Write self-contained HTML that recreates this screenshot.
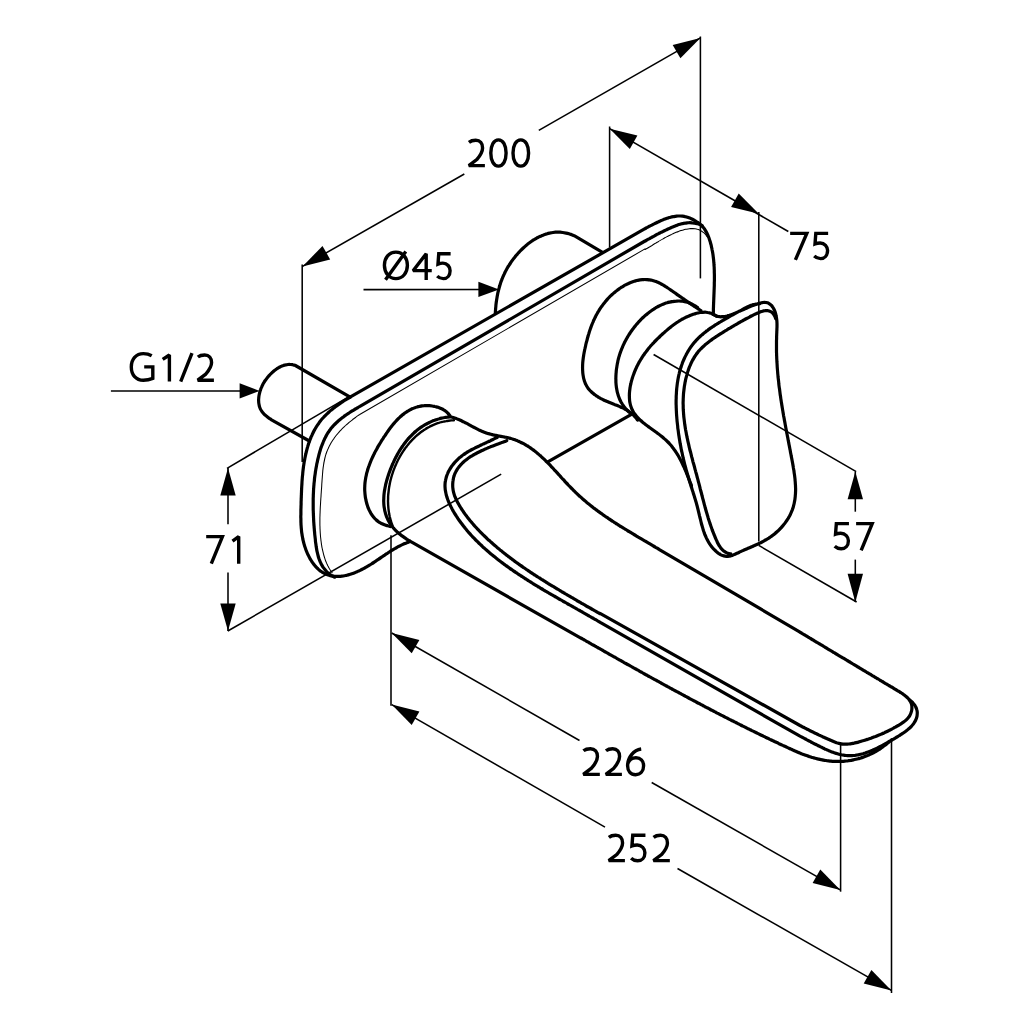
<!DOCTYPE html>
<html><head><meta charset="utf-8"><style>
html,body{margin:0;padding:0;background:#fff;}
svg{display:block;}
text{font-family:"Liberation Sans", sans-serif;fill:#000;}
</style></head><body>
<svg width="1030" height="1030" viewBox="0 0 1030 1030">
<rect width="1030" height="1030" fill="#fff"/>
<path d="M495.3,313.1 C495.4,312.7 495.4,311.3 495.5,310.4 C495.6,309.6 495.6,308.7 495.7,307.8 C495.8,306.9 495.9,306.1 495.9,305.2 C496.0,304.4 496.1,303.5 496.2,302.7 C496.3,301.8 496.5,301.0 496.6,300.1 C496.7,299.3 496.8,298.5 497.0,297.6 C497.1,296.8 497.3,296.0 497.4,295.2 C497.6,294.4 497.7,293.6 497.9,292.7 C498.1,291.9 498.3,291.1 498.5,290.3 C498.7,289.5 498.9,288.7 499.1,288.0 C499.3,287.2 499.5,286.4 499.8,285.6 C500.0,284.8 500.3,284.0 500.5,283.3 C500.8,282.5 501.0,281.7 501.3,280.9 C501.6,280.2 501.9,279.4 502.2,278.7 C502.5,277.9 502.8,277.1 503.1,276.4 C503.5,275.6 503.8,274.9 504.2,274.1 C504.5,273.4 504.9,272.7 505.2,271.9 C505.6,271.2 506.0,270.4 506.4,269.7 C506.8,269.0 507.2,268.2 507.6,267.5 C508.1,266.8 508.5,266.1 509.0,265.3 C509.4,264.6 509.9,263.9 510.4,263.2 C510.8,262.5 511.3,261.8 511.8,261.0 C512.3,260.3 512.9,259.6 513.4,258.9 C513.9,258.2 514.5,257.5 515.0,256.9 C515.6,256.2 516.1,255.5 516.7,254.8 C517.3,254.2 517.9,253.5 518.5,252.8 C519.1,252.2 519.7,251.5 520.3,250.9 C520.9,250.3 521.5,249.7 522.2,249.0 C522.8,248.4 523.4,247.8 524.1,247.2 C524.8,246.6 525.4,246.1 526.1,245.5 C526.8,244.9 527.4,244.4 528.1,243.8 C528.8,243.3 529.5,242.8 530.2,242.3 C530.9,241.8 531.6,241.3 532.3,240.8 C533.1,240.3 533.8,239.8 534.5,239.4 C535.3,238.9 536.0,238.5 536.7,238.1 C537.5,237.7 538.2,237.3 539.0,236.9 C539.7,236.6 540.5,236.2 541.3,235.9 C542.0,235.5 542.8,235.2 543.6,234.9 C544.3,234.6 545.1,234.4 545.9,234.1 C546.7,233.9 547.5,233.6 548.2,233.4 C549.0,233.2 549.8,233.0 550.6,232.9 C551.4,232.7 552.2,232.6 553.0,232.5 C553.8,232.4 554.6,232.3 555.4,232.2 C556.2,232.2 557.0,232.1 557.8,232.1 C558.6,232.1 559.4,232.2 560.2,232.2 C561.1,232.3 561.9,232.4 562.7,232.5 C563.5,232.6 564.3,232.7 565.1,232.9 C565.9,233.0 566.7,233.2 567.5,233.4 C568.3,233.6 569.1,233.8 569.9,234.1 C570.7,234.3 571.5,234.6 572.3,234.9 C573.1,235.2 574.2,235.7 574.6,235.9 L602.5,252.3" fill="none" stroke="#000" stroke-width="3.2" stroke-linejoin="round" stroke-linecap="round"/>
<path d="M350.2,397.1 L295.4,365.5  L295.0,365.3 C294.6,365.2 293.5,364.9 292.7,364.7 C291.9,364.6 291.1,364.5 290.3,364.5 C289.6,364.4 288.8,364.4 288.0,364.5 C287.2,364.6 286.5,364.7 285.7,364.9 C284.9,365.0 284.1,365.2 283.4,365.5 C282.6,365.8 281.8,366.1 281.1,366.4 C280.3,366.8 279.6,367.2 278.8,367.6 C278.1,368.0 277.4,368.5 276.6,369.0 C275.9,369.5 275.2,370.0 274.5,370.5 C273.8,371.1 273.1,371.7 272.5,372.3 C271.8,372.8 271.2,373.5 270.5,374.1 C269.9,374.7 269.3,375.4 268.7,376.0 C268.1,376.7 267.5,377.4 267.0,378.1 C266.5,378.8 265.9,379.5 265.4,380.2 C264.9,380.9 264.4,381.7 264.0,382.4 C263.5,383.2 263.1,383.9 262.7,384.7 C262.3,385.5 261.9,386.3 261.6,387.1 C261.2,387.9 260.9,388.7 260.6,389.6 C260.3,390.4 260.0,391.2 259.8,392.1 C259.6,392.9 259.4,393.8 259.2,394.6 C259.0,395.5 258.9,396.3 258.8,397.2 C258.7,398.1 258.7,398.9 258.6,399.8 C258.6,400.7 258.7,401.5 258.7,402.4 C258.8,403.2 258.9,404.0 259.1,404.8 C259.2,405.6 259.4,406.4 259.7,407.2 C260.0,408.0 260.3,408.7 260.6,409.4 C261.0,410.2 261.4,410.9 261.9,411.5 C262.4,412.2 262.9,412.8 263.5,413.4 C264.0,414.0 264.6,414.6 265.3,415.2 C265.9,415.8 266.6,416.3 267.2,416.8 C267.9,417.4 268.6,417.9 269.3,418.4 C270.1,418.9 271.2,419.6 271.5,419.8 L309.4,441" fill="none" stroke="#000" stroke-width="3.2" stroke-linejoin="round" stroke-linecap="round"/>
<path d="M408.7,542.0 C408.3,542.2 407.1,542.6 406.4,542.9 C405.6,543.2 404.8,543.5 404.1,543.8 C403.3,544.2 402.6,544.5 401.8,544.9 C401.1,545.2 400.4,545.6 399.6,546.0 C398.9,546.3 398.2,546.7 397.4,547.1 C396.7,547.5 396.0,547.9 395.3,548.4 C394.5,548.8 393.8,549.2 393.1,549.6 C392.4,550.1 391.7,550.5 391.0,550.9 C390.3,551.4 389.6,551.8 388.9,552.3 C388.2,552.8 387.5,553.2 386.8,553.7 C386.1,554.1 385.4,554.6 384.7,555.1 C384.0,555.5 383.3,556.0 382.6,556.5 C381.9,557.0 381.2,557.4 380.5,557.9 C379.8,558.4 379.1,558.9 378.4,559.3 C377.7,559.8 377.0,560.3 376.3,560.7 C375.6,561.2 374.9,561.7 374.2,562.1 C373.5,562.6 372.8,563.1 372.1,563.5 C371.4,564.0 370.7,564.4 369.9,564.9 C369.2,565.3 368.5,565.7 367.8,566.2 C367.1,566.6 366.3,567.0 365.6,567.4 C364.9,567.9 364.1,568.3 363.4,568.7 C362.7,569.1 361.9,569.4 361.2,569.8 C360.4,570.2 359.7,570.6 358.9,570.9 C358.1,571.3 357.4,571.6 356.6,571.9 C355.8,572.3 355.0,572.6 354.2,572.9 C353.4,573.2 352.6,573.5 351.8,573.7 C351.0,574.0 350.2,574.3 349.4,574.5 C348.6,574.8 347.8,575.0 346.9,575.2 C346.1,575.4 345.3,575.5 344.4,575.7 C343.6,575.9 342.8,576.0 341.9,576.1 C341.1,576.2 340.3,576.3 339.4,576.3 C338.6,576.4 337.8,576.4 336.9,576.4 C336.1,576.4 335.3,576.4 334.5,576.3 C333.7,576.2 332.9,576.1 332.1,576.0 C331.3,575.8 330.5,575.7 329.7,575.4 C328.9,575.2 328.1,575.0 327.4,574.7 C326.6,574.5 325.9,574.1 325.2,573.8 C324.4,573.5 323.7,573.1 323.0,572.7 C322.4,572.3 321.7,571.8 321.0,571.4 C320.4,570.9 319.7,570.4 319.1,569.9 C318.5,569.4 317.9,568.8 317.3,568.3 C316.7,567.7 316.2,567.1 315.6,566.5 C315.1,565.9 314.5,565.2 314.0,564.6 C313.5,563.9 313.0,563.2 312.5,562.5 C312.0,561.9 311.6,561.1 311.1,560.4 C310.6,559.7 310.2,559.0 309.8,558.2 C309.4,557.5 309.0,556.7 308.6,555.9 C308.2,555.1 307.8,554.4 307.5,553.6 C307.1,552.8 306.8,552.0 306.5,551.2 C306.1,550.4 305.8,549.6 305.6,548.8 C305.3,548.0 305.0,547.1 304.7,546.3 C304.5,545.5 304.2,544.7 304.0,543.9 C303.8,543.1 303.6,542.3 303.4,541.5 C303.2,540.6 303.0,539.8 302.8,539.0 C302.7,538.2 302.5,537.4 302.4,536.6 C302.2,535.8 302.1,535.0 302.0,534.2 C301.8,533.4 301.7,532.6 301.6,531.8 C301.5,531.0 301.5,530.1 301.4,529.3 C301.3,528.5 301.2,527.7 301.2,526.9 C301.1,526.1 301.1,525.3 301.0,524.5 C301.0,523.7 301.0,522.9 300.9,522.0 C300.9,521.2 300.9,520.4 300.9,519.6 C300.9,518.8 300.9,518.0 300.8,517.2 C300.8,516.3 300.8,515.5 300.9,514.7 C300.9,513.9 300.9,513.1 300.9,512.2 C300.9,511.4 300.9,510.6 300.9,509.8 C300.9,508.9 301.0,508.1 301.0,507.3 C301.0,506.4 301.0,505.6 301.1,504.8 C301.1,503.9 301.1,503.1 301.1,502.2 C301.1,501.4 301.2,500.6 301.2,499.7 C301.2,498.9 301.2,498.0 301.3,497.2 C301.3,496.3 301.3,495.5 301.4,494.6 C301.4,493.8 301.4,492.9 301.5,492.1 C301.5,491.2 301.5,490.3 301.6,489.5 C301.6,488.6 301.7,487.8 301.7,486.9 C301.8,486.1 301.8,485.2 301.9,484.3 C301.9,483.5 302.0,482.6 302.0,481.8 C302.1,480.9 302.1,480.1 302.2,479.2 C302.3,478.3 302.3,477.5 302.4,476.6 C302.5,475.8 302.6,474.9 302.7,474.1 C302.7,473.2 302.8,472.4 302.9,471.5 C303.0,470.7 303.1,469.8 303.2,469.0 C303.3,468.1 303.4,467.3 303.5,466.4 C303.7,465.6 303.8,464.7 303.9,463.9 C304.0,463.1 304.2,462.2 304.3,461.4 C304.5,460.6 304.6,459.7 304.8,458.9 C304.9,458.1 305.1,457.2 305.3,456.4 C305.4,455.6 305.6,454.8 305.8,454.0 C306.0,453.1 306.2,452.3 306.4,451.5 C306.6,450.7 306.8,449.9 307.0,449.1 C307.2,448.3 307.4,447.5 307.7,446.7 C307.9,445.9 308.1,445.2 308.4,444.4 C308.6,443.6 308.9,442.8 309.2,442.1 C309.5,441.3 309.7,440.5 310.0,439.8 C310.3,439.0 310.6,438.2 310.9,437.5 C311.2,436.7 311.6,436.0 311.9,435.3 C312.2,434.5 312.6,433.8 312.9,433.1 C313.3,432.4 313.6,431.6 314.0,430.9 C314.4,430.2 314.8,429.5 315.2,428.8 C315.6,428.1 316.0,427.4 316.4,426.7 C316.9,426.1 317.3,425.4 317.7,424.7 C318.2,424.1 318.7,423.4 319.1,422.7 C319.6,422.1 320.1,421.5 320.6,420.8 C321.1,420.2 321.6,419.6 322.1,418.9 C322.7,418.3 323.2,417.7 323.8,417.1 C324.3,416.5 324.9,415.9 325.5,415.3 C326.1,414.7 326.6,414.2 327.3,413.6 C327.9,413.0 328.5,412.5 329.1,411.9 C329.7,411.4 330.3,410.8 331.0,410.3 C331.6,409.7 332.3,409.2 332.9,408.7 C333.6,408.1 334.3,407.6 335.0,407.1 C335.6,406.6 336.3,406.1 337.0,405.6 C337.7,405.1 338.4,404.6 339.1,404.1 C339.8,403.6 340.5,403.1 341.2,402.6 C342.0,402.2 342.7,401.7 343.4,401.2 C344.1,400.8 344.9,400.3 345.6,399.8 C346.3,399.4 347.1,398.9 347.8,398.5 C348.5,398.0 349.7,397.4 350.0,397.1 L645,228.7  L645.0,228.7 C645.4,228.5 646.5,227.8 647.3,227.4 C648.0,227.0 648.8,226.6 649.5,226.2 C650.3,225.9 651.0,225.5 651.8,225.1 C652.5,224.7 653.3,224.3 654.1,223.9 C654.8,223.5 655.6,223.2 656.4,222.8 C657.2,222.4 657.9,222.0 658.7,221.7 C659.5,221.3 660.3,221.0 661.0,220.6 C661.8,220.3 662.6,220.0 663.4,219.6 C664.2,219.3 665.0,219.0 665.8,218.7 C666.6,218.4 667.3,218.2 668.1,217.9 C668.9,217.7 669.7,217.4 670.5,217.2 C671.3,217.0 672.1,216.8 672.9,216.7 C673.7,216.5 674.5,216.4 675.3,216.3 C676.1,216.2 677.0,216.1 677.8,216.0 C678.6,216.0 679.4,216.0 680.2,216.0 C681.0,216.0 681.8,216.1 682.6,216.2 C683.4,216.3 684.2,216.4 685.1,216.6 C685.9,216.7 686.7,217.0 687.5,217.2 C688.3,217.5 689.1,217.8 690.0,218.1 C690.8,218.5 691.6,218.9 692.4,219.3 C693.2,219.7 694.0,220.2 694.8,220.6 C695.6,221.1 696.3,221.5 697.1,222.0 C697.8,222.5 698.6,223.0 699.3,223.6 C699.9,224.1 700.6,224.7 701.2,225.3 C701.8,225.9 702.4,226.5 703.0,227.1 C703.5,227.7 704.0,228.4 704.5,229.0 C705.0,229.7 705.4,230.4 705.8,231.1 C706.2,231.8 706.6,232.5 707.0,233.3 C707.3,234.0 707.7,234.7 708.0,235.5 C708.3,236.3 708.6,237.0 708.9,237.8 C709.2,238.6 709.4,239.4 709.7,240.2 C709.9,240.9 710.2,241.7 710.4,242.5 C710.6,243.3 710.8,244.1 711.1,244.9 C711.3,245.7 711.4,246.6 711.6,247.4 C711.8,248.2 712.0,249.0 712.1,249.8 C712.3,250.7 712.5,251.5 712.6,252.3 C712.7,253.1 712.9,254.0 713.0,254.8 C713.1,255.6 713.2,256.5 713.3,257.3 C713.4,258.2 713.5,259.0 713.6,259.8 C713.7,260.7 713.8,261.5 713.8,262.4 C713.9,263.2 714.0,264.1 714.0,265.0 C714.1,265.8 714.1,266.7 714.2,267.5 C714.2,268.4 714.2,269.2 714.3,270.1 C714.3,271.0 714.3,271.8 714.3,272.7 C714.4,273.5 714.4,274.4 714.4,275.3 C714.4,276.1 714.4,277.0 714.4,277.9 C714.4,278.7 714.4,279.6 714.4,280.5 C714.4,281.3 714.3,282.2 714.3,283.0 C714.3,283.9 714.3,284.8 714.3,285.6 C714.3,286.5 714.2,287.4 714.2,288.2 C714.2,289.1 714.1,289.9 714.1,290.8 C714.1,291.7 714.0,292.5 714.0,293.4 C714.0,294.2 713.9,295.1 713.9,295.9 C713.9,296.8 713.8,297.6 713.8,298.5 C713.8,299.3 713.7,300.2 713.7,301.0 C713.7,301.9 713.6,302.7 713.6,303.5 C713.6,304.4 713.5,305.2 713.5,306.0 C713.5,306.9 713.5,307.7 713.4,308.5 C713.4,309.3 713.4,310.2 713.4,311.0 C713.4,311.8 713.3,313.0 713.3,313.4" fill="none" stroke="#000" stroke-width="3.2" stroke-linejoin="round" stroke-linecap="round"/>
<path d="M334.6,577.2 C334.2,577.0 332.9,576.4 332.2,575.9 C331.4,575.5 330.7,575.0 330.0,574.5 C329.3,574.0 328.6,573.4 328.0,572.9 C327.4,572.3 326.8,571.8 326.3,571.2 C325.7,570.6 325.2,570.0 324.7,569.3 C324.2,568.7 323.7,568.1 323.2,567.4 C322.8,566.8 322.4,566.1 322.0,565.4 C321.6,564.7 321.2,564.0 320.9,563.3 C320.5,562.6 320.2,561.8 319.9,561.1 C319.6,560.4 319.3,559.6 319.0,558.8 C318.8,558.1 318.5,557.3 318.3,556.5 C318.1,555.7 317.9,554.9 317.7,554.1 C317.5,553.3 317.3,552.5 317.1,551.7 C316.9,550.9 316.8,550.1 316.6,549.2 C316.5,548.4 316.4,547.6 316.2,546.7 C316.1,545.9 316.0,545.1 315.9,544.2 C315.8,543.4 315.6,542.5 315.5,541.7 C315.4,540.8 315.4,540.0 315.3,539.1 C315.2,538.3 315.1,537.4 315.0,536.6 C314.9,535.7 314.8,534.9 314.7,534.1 C314.7,533.2 314.6,532.4 314.5,531.5 C314.4,530.7 314.3,529.8 314.3,529.0 C314.2,528.1 314.1,527.3 314.1,526.4 C314.0,525.6 313.9,524.7 313.9,523.9 C313.8,523.1 313.8,522.2 313.7,521.4 C313.7,520.5 313.6,519.7 313.6,518.8 C313.5,518.0 313.5,517.2 313.5,516.3 C313.4,515.5 313.4,514.6 313.4,513.8 C313.3,513.0 313.3,512.1 313.3,511.3 C313.2,510.4 313.2,509.6 313.2,508.8 C313.2,507.9 313.2,507.1 313.2,506.2 C313.2,505.4 313.2,504.6 313.2,503.7 C313.2,502.9 313.2,502.1 313.2,501.2 C313.2,500.4 313.2,499.6 313.2,498.7 C313.2,497.9 313.3,497.1 313.3,496.2 C313.3,495.4 313.3,494.5 313.4,493.7 C313.4,492.9 313.5,492.1 313.5,491.2 C313.5,490.4 313.6,489.6 313.6,488.7 C313.7,487.9 313.8,487.1 313.8,486.2 C313.9,485.4 314.0,484.6 314.0,483.7 C314.1,482.9 314.2,482.1 314.3,481.3 C314.4,480.4 314.4,479.6 314.5,478.8 C314.6,477.9 314.7,477.1 314.8,476.3 C314.9,475.5 315.1,474.6 315.2,473.8 C315.3,473.0 315.4,472.2 315.5,471.3 C315.7,470.5 315.8,469.7 315.9,468.9 C316.1,468.1 316.2,467.2 316.4,466.4 C316.5,465.6 316.7,464.8 316.8,463.9 C317.0,463.1 317.2,462.3 317.4,461.5 C317.5,460.7 317.7,459.8 317.9,459.0 C318.1,458.2 318.3,457.4 318.5,456.6 C318.7,455.8 318.9,454.9 319.1,454.1 C319.3,453.3 319.6,452.5 319.8,451.7 C320.0,450.9 320.3,450.1 320.5,449.3 C320.8,448.5 321.0,447.7 321.3,446.9 C321.6,446.1 321.9,445.4 322.2,444.6 C322.5,443.8 322.8,443.0 323.1,442.3 C323.4,441.5 323.7,440.8 324.1,440.0 C324.4,439.3 324.8,438.5 325.2,437.8 C325.5,437.1 325.9,436.3 326.3,435.6 C326.7,434.9 327.1,434.2 327.5,433.5 C328.0,432.8 328.4,432.1 328.9,431.5 C329.3,430.8 329.8,430.1 330.3,429.5 C330.8,428.8 331.3,428.2 331.8,427.6 C332.3,427.0 332.9,426.3 333.4,425.7 C334.0,425.1 334.6,424.5 335.1,424.0 C335.7,423.4 336.3,422.8 336.9,422.3 C337.5,421.7 338.2,421.1 338.8,420.6 C339.4,420.1 340.1,419.5 340.7,419.0 C341.4,418.5 342.0,418.0 342.7,417.4 C343.4,416.9 344.0,416.4 344.7,415.9 C345.4,415.4 346.1,415.0 346.8,414.5 C347.5,414.0 348.2,413.5 348.9,413.1 C349.7,412.6 350.4,412.1 351.1,411.7 C351.8,411.2 352.5,410.8 353.3,410.3 C354.0,409.9 354.7,409.4 355.5,409.0 C356.2,408.5 356.9,408.1 357.7,407.7 C358.4,407.2 359.5,406.6 359.9,406.4 L645,241.0  L645.1,241.1 C645.4,240.9 646.6,240.3 647.3,239.8 C648.1,239.4 648.8,239.0 649.6,238.6 C650.3,238.1 651.1,237.7 651.8,237.3 C652.6,236.9 653.4,236.5 654.1,236.1 C654.9,235.6 655.6,235.2 656.4,234.8 C657.2,234.4 657.9,234.0 658.7,233.6 C659.5,233.2 660.2,232.8 661.0,232.4 C661.8,232.0 662.6,231.7 663.3,231.3 C664.1,230.9 664.9,230.5 665.7,230.1 C666.4,229.8 667.2,229.4 668.0,229.0 C668.8,228.7 669.6,228.3 670.3,228.0 C671.1,227.6 671.9,227.3 672.7,226.9 C673.5,226.6 674.3,226.3 675.1,226.0 C675.9,225.6 676.7,225.3 677.5,225.1 C678.3,224.8 679.1,224.5 679.9,224.3 C680.7,224.1 681.5,223.8 682.3,223.7 C683.1,223.5 683.9,223.3 684.7,223.2 C685.6,223.0 686.4,222.9 687.2,222.8 C688.0,222.8 688.8,222.7 689.7,222.7 C690.5,222.7 691.3,222.7 692.1,222.8 C693.0,222.8 693.8,222.9 694.6,223.1 C695.5,223.2 696.3,223.4 697.1,223.6 C698.0,223.9 698.8,224.1 699.7,224.4 C700.5,224.8 701.8,225.4 702.2,225.6" fill="none" stroke="#000" stroke-width="3.2" stroke-linejoin="round" stroke-linecap="round"/>
<path d="M332.1,572.6 C331.8,572.3 331.1,571.2 330.6,570.5 C330.1,569.8 329.7,569.1 329.2,568.3 C328.8,567.6 328.4,566.8 328.0,566.1 C327.6,565.3 327.3,564.6 326.9,563.8 C326.6,563.0 326.2,562.3 325.9,561.5 C325.6,560.7 325.3,559.9 325.0,559.1 C324.8,558.4 324.5,557.6 324.3,556.8 C324.0,556.0 323.8,555.2 323.6,554.4 C323.4,553.6 323.2,552.8 323.0,551.9 C322.8,551.1 322.6,550.3 322.4,549.5 C322.3,548.7 322.1,547.9 321.9,547.1 C321.8,546.2 321.7,545.4 321.5,544.6 C321.4,543.8 321.3,543.0 321.2,542.2 C321.1,541.3 320.9,540.5 320.9,539.7 C320.8,538.9 320.7,538.0 320.6,537.2 C320.5,536.4 320.4,535.6 320.4,534.7 C320.3,533.9 320.3,533.1 320.2,532.3 C320.2,531.4 320.1,530.6 320.1,529.8 C320.0,529.0 320.0,528.1 320.0,527.3 C320.0,526.5 319.9,525.6 319.9,524.8 C319.9,524.0 319.9,523.1 319.9,522.3 C319.9,521.4 319.9,520.6 319.9,519.8 C319.9,518.9 319.9,518.1 319.9,517.2 C320.0,516.4 320.0,515.6 320.0,514.7 C320.0,513.9 320.1,513.0 320.1,512.2 C320.1,511.3 320.2,510.5 320.2,509.6 C320.2,508.8 320.3,507.9 320.3,507.1 C320.4,506.2 320.4,505.4 320.5,504.5 C320.5,503.7 320.6,502.8 320.6,502.0 C320.7,501.1 320.7,500.2 320.8,499.4 C320.8,498.5 320.9,497.7 321.0,496.8 C321.0,495.9 321.1,495.1 321.1,494.2 C321.2,493.3 321.3,492.5 321.3,491.6 C321.4,490.7 321.4,489.9 321.5,489.0 C321.6,488.1 321.6,487.2 321.7,486.4 C321.7,485.5 321.8,484.6 321.8,483.7 C321.9,482.9 322.0,482.0 322.0,481.1 C322.1,480.2 322.1,479.4 322.2,478.5 C322.3,477.6 322.3,476.7 322.4,475.9 C322.5,475.0 322.5,474.1 322.6,473.2 C322.7,472.4 322.8,471.5 322.8,470.6 C322.9,469.8 323.0,468.9 323.1,468.1 C323.2,467.2 323.4,466.3 323.5,465.5 C323.6,464.6 323.7,463.8 323.9,463.0 C324.0,462.1 324.2,461.3 324.4,460.5 C324.5,459.6 324.7,458.8 324.9,458.0 C325.1,457.2 325.3,456.4 325.5,455.6 C325.8,454.8 326.0,454.0 326.3,453.3 C326.5,452.5 326.8,451.7 327.1,451.0 C327.4,450.2 327.7,449.5 328.1,448.7 C328.4,448.0 328.7,447.3 329.1,446.5 C329.4,445.8 329.8,445.1 330.2,444.4 C330.6,443.7 331.0,443.0 331.4,442.3 C331.8,441.6 332.3,440.9 332.7,440.3 C333.2,439.6 333.6,438.9 334.1,438.3 C334.6,437.6 335.0,437.0 335.5,436.3 C336.0,435.7 336.5,435.0 337.1,434.4 C337.6,433.8 338.1,433.2 338.6,432.6 C339.2,431.9 339.7,431.3 340.3,430.7 C340.9,430.1 341.4,429.5 342.0,428.9 C342.6,428.4 343.2,427.8 343.8,427.2 C344.4,426.6 345.0,426.1 345.6,425.5 C346.2,424.9 346.9,424.4 347.5,423.8 C348.1,423.3 348.8,422.7 349.4,422.2 C350.1,421.6 350.7,421.1 351.4,420.6 C352.1,420.1 352.7,419.5 353.4,419.0 C354.1,418.5 354.8,418.0 355.5,417.5 C356.2,417.0 356.9,416.4 357.6,415.9 C358.3,415.4 359.3,414.7 359.7,414.5 L645,248.9  L645.1,249.6 C645.4,249.3 646.5,248.7 647.3,248.3 C648.0,247.8 648.7,247.4 649.4,247.0 C650.2,246.5 650.9,246.1 651.6,245.7 C652.3,245.2 653.1,244.8 653.8,244.3 C654.5,243.9 655.2,243.4 656.0,243.0 C656.7,242.6 657.4,242.1 658.2,241.7 C658.9,241.2 659.6,240.8 660.4,240.4 C661.1,239.9 661.8,239.5 662.6,239.1 C663.3,238.7 664.1,238.3 664.8,237.8 C665.6,237.4 666.3,237.0 667.0,236.6 C667.8,236.2 668.6,235.9 669.3,235.5 C670.1,235.1 670.8,234.7 671.6,234.4 C672.3,234.0 673.1,233.7 673.9,233.3 C674.7,233.0 675.4,232.7 676.2,232.3 C677.0,232.0 677.8,231.7 678.5,231.4 C679.3,231.2 680.1,230.9 680.9,230.6 C681.7,230.4 682.5,230.1 683.3,229.9 C684.1,229.7 684.9,229.5 685.7,229.3 C686.5,229.1 687.3,229.0 688.1,228.9 C688.9,228.8 689.7,228.7 690.5,228.6 C691.3,228.6 692.1,228.6 692.9,228.6 C693.6,228.6 694.4,228.7 695.2,228.8 C695.9,228.9 696.7,229.1 697.4,229.3 C698.2,229.5 698.9,229.8 699.6,230.1 C700.3,230.4 701.0,230.8 701.7,231.2 C702.4,231.7 703.1,232.2 703.7,232.7 C704.4,233.3 705.0,233.9 705.7,234.6 C706.3,235.3 707.1,236.6 707.4,237.0" fill="none" stroke="#000" stroke-width="1.05" stroke-linejoin="round" stroke-linecap="round"/>
<path d="M547.8,461.8 L631,414.6" fill="none" stroke="#000" stroke-width="3.2" stroke-linejoin="round" stroke-linecap="round"/>
<path d="M637.6,420.1 C637.3,419.7 636.6,418.6 636.0,417.9 C635.5,417.2 634.9,416.6 634.3,416.0 C633.8,415.4 633.2,414.8 632.5,414.2 C631.9,413.7 631.3,413.2 630.6,412.7 C630.0,412.2 629.3,411.7 628.6,411.2 C627.9,410.8 627.2,410.3 626.5,409.9 C625.8,409.5 625.1,409.1 624.3,408.7 C623.6,408.3 622.8,408.0 622.1,407.6 C621.3,407.3 620.5,406.9 619.8,406.6 C619.0,406.3 618.2,405.9 617.4,405.6 C616.6,405.3 615.8,405.0 615.0,404.7 C614.3,404.4 613.5,404.0 612.7,403.7 C611.9,403.4 611.1,403.1 610.3,402.8 C609.5,402.5 608.7,402.2 607.9,401.8 C607.1,401.5 606.3,401.2 605.5,400.8 C604.8,400.5 604.0,400.1 603.2,399.7 C602.4,399.4 601.7,399.0 600.9,398.6 C600.2,398.2 599.5,397.8 598.7,397.4 C598.0,396.9 597.3,396.5 596.6,396.0 C595.9,395.6 595.2,395.1 594.6,394.6 C593.9,394.1 593.3,393.6 592.7,393.1 C592.1,392.5 591.5,392.0 590.9,391.4 C590.3,390.8 589.8,390.3 589.3,389.7 C588.7,389.0 588.2,388.4 587.8,387.8 C587.3,387.1 586.9,386.4 586.5,385.7 C586.1,385.0 585.8,384.3 585.4,383.6 C585.1,382.8 584.8,382.1 584.5,381.3 C584.3,380.5 584.0,379.7 583.8,378.9 C583.6,378.1 583.4,377.3 583.3,376.4 C583.1,375.6 583.0,374.8 582.9,373.9 C582.8,373.1 582.7,372.2 582.7,371.3 C582.6,370.5 582.6,369.6 582.6,368.8 C582.5,367.9 582.6,367.0 582.6,366.2 C582.6,365.3 582.6,364.5 582.7,363.6 C582.7,362.8 582.8,361.9 582.9,361.0 C583.0,360.2 583.1,359.3 583.2,358.5 C583.3,357.6 583.4,356.8 583.6,355.9 C583.7,355.1 583.8,354.2 584.0,353.4 C584.1,352.6 584.3,351.7 584.5,350.9 C584.6,350.0 584.8,349.2 585.0,348.4 C585.2,347.5 585.4,346.7 585.6,345.9 C585.7,345.1 585.9,344.2 586.1,343.4 C586.3,342.6 586.5,341.8 586.8,341.0 C587.0,340.1 587.2,339.3 587.4,338.5 C587.6,337.7 587.8,336.9 588.1,336.1 C588.3,335.3 588.5,334.5 588.8,333.7 C589.0,332.9 589.3,332.1 589.5,331.3 C589.8,330.6 590.0,329.8 590.3,329.0 C590.6,328.2 590.9,327.4 591.1,326.7 C591.4,325.9 591.7,325.1 592.0,324.4 C592.3,323.6 592.6,322.9 593.0,322.1 C593.3,321.3 593.6,320.6 594.0,319.8 C594.3,319.1 594.6,318.4 595.0,317.6 C595.4,316.9 595.7,316.2 596.1,315.4 C596.5,314.7 596.9,314.0 597.3,313.3 C597.7,312.5 598.1,311.8 598.6,311.1 C599.0,310.4 599.4,309.7 599.9,309.0 C600.3,308.3 600.8,307.6 601.3,306.9 C601.8,306.2 602.3,305.6 602.8,304.9 C603.3,304.2 603.8,303.5 604.3,302.9 C604.9,302.2 605.4,301.5 606.0,300.9 C606.6,300.2 607.1,299.6 607.7,298.9 C608.3,298.3 608.9,297.7 609.5,297.0 C610.2,296.4 610.8,295.8 611.4,295.2 C612.1,294.6 612.7,294.0 613.4,293.4 C614.0,292.9 614.7,292.3 615.4,291.7 C616.0,291.2 616.7,290.7 617.4,290.1 C618.1,289.6 618.8,289.1 619.5,288.6 C620.3,288.1 621.0,287.6 621.7,287.2 C622.4,286.7 623.2,286.2 623.9,285.8 C624.6,285.4 625.4,285.0 626.1,284.6 C626.9,284.2 627.7,283.8 628.4,283.5 C629.2,283.1 630.0,282.8 630.7,282.5 C631.5,282.2 632.3,281.9 633.0,281.6 C633.8,281.4 634.6,281.1 635.4,280.9 C636.2,280.7 637.0,280.5 637.8,280.3 C638.5,280.2 639.3,280.0 640.1,279.9 C640.9,279.8 641.7,279.7 642.5,279.6 C643.3,279.6 644.1,279.5 644.9,279.5 C645.7,279.5 646.5,279.6 647.3,279.6 C648.0,279.7 648.8,279.8 649.6,279.9 C650.4,280.0 651.2,280.1 652.0,280.3 C652.7,280.5 653.5,280.7 654.3,281.0 C655.1,281.2 655.8,281.5 656.6,281.8 C657.4,282.1 658.1,282.5 658.9,282.8 C659.7,283.2 660.4,283.6 661.2,284.0 C661.9,284.4 662.7,284.8 663.4,285.2 C664.2,285.7 664.9,286.1 665.6,286.6 C666.4,287.0 667.1,287.5 667.8,288.0 C668.6,288.5 669.3,289.0 670.0,289.5 C670.7,290.0 671.4,290.5 672.2,291.0 C672.9,291.5 673.6,292.0 674.3,292.5 C675.0,293.0 675.7,293.4 676.4,293.9 C677.0,294.4 677.7,294.9 678.4,295.4 C679.1,295.9 679.8,296.3 680.5,296.8 C681.1,297.3 681.8,297.8 682.5,298.2 C683.2,298.7 683.8,299.2 684.5,299.6 C685.2,300.1 685.8,300.6 686.5,301.0 C687.2,301.5 687.9,302.0 688.5,302.4 C689.2,302.9 689.9,303.3 690.6,303.8 C691.2,304.2 691.9,304.7 692.6,305.2 C693.3,305.6 694.0,306.1 694.7,306.5 C695.4,307.0 696.1,307.5 696.8,307.9 C697.5,308.4 698.2,308.8 698.9,309.3 C699.6,309.8 700.7,310.5 701.0,310.7" fill="none" stroke="#000" stroke-width="3.2" stroke-linejoin="round" stroke-linecap="round"/>
<path d="M630.1,412.9 C629.8,412.6 628.8,411.8 628.1,411.2 C627.5,410.6 626.9,410.0 626.3,409.4 C625.7,408.8 625.2,408.2 624.7,407.5 C624.2,406.9 623.7,406.2 623.2,405.5 C622.7,404.8 622.3,404.2 621.9,403.4 C621.4,402.7 621.0,402.0 620.7,401.3 C620.3,400.6 620.0,399.8 619.6,399.1 C619.3,398.3 619.0,397.6 618.7,396.8 C618.5,396.0 618.2,395.3 618.0,394.5 C617.7,393.7 617.5,392.9 617.3,392.1 C617.1,391.3 617.0,390.5 616.8,389.7 C616.7,388.8 616.5,388.0 616.4,387.2 C616.3,386.4 616.2,385.5 616.1,384.7 C616.0,383.9 616.0,383.0 615.9,382.2 C615.9,381.4 615.9,380.5 615.9,379.7 C615.8,378.8 615.8,378.0 615.9,377.1 C615.9,376.3 615.9,375.4 616.0,374.6 C616.0,373.8 616.1,372.9 616.2,372.1 C616.2,371.2 616.3,370.4 616.4,369.6 C616.5,368.7 616.6,367.9 616.8,367.1 C616.9,366.2 617.0,365.4 617.2,364.6 C617.3,363.8 617.5,363.0 617.7,362.2 C617.8,361.3 618.0,360.5 618.2,359.7 C618.4,358.9 618.6,358.1 618.8,357.3 C619.1,356.5 619.3,355.8 619.5,355.0 C619.8,354.2 620.0,353.4 620.3,352.6 C620.6,351.8 620.9,351.1 621.2,350.3 C621.4,349.5 621.7,348.7 622.1,348.0 C622.4,347.2 622.7,346.5 623.0,345.7 C623.4,345.0 623.7,344.2 624.1,343.5 C624.4,342.7 624.8,342.0 625.2,341.2 C625.6,340.5 626.0,339.8 626.4,339.0 C626.8,338.3 627.2,337.6 627.6,336.9 C628.1,336.1 628.5,335.4 628.9,334.7 C629.4,334.0 629.9,333.3 630.3,332.6 C630.8,331.9 631.3,331.2 631.8,330.5 C632.3,329.8 632.8,329.1 633.3,328.5 C633.8,327.8 634.3,327.1 634.9,326.4 C635.4,325.8 636.0,325.1 636.5,324.4 C637.1,323.8 637.7,323.1 638.2,322.5 C638.8,321.8 639.4,321.2 640.0,320.6 C640.6,320.0 641.2,319.3 641.8,318.7 C642.4,318.1 643.1,317.5 643.7,316.9 C644.3,316.4 645.0,315.8 645.6,315.2 C646.3,314.6 646.9,314.1 647.6,313.6 C648.3,313.0 648.9,312.5 649.6,312.0 C650.3,311.5 651.0,311.0 651.7,310.5 C652.4,310.0 653.1,309.5 653.8,309.1 C654.5,308.6 655.2,308.2 655.9,307.7 C656.6,307.3 657.4,306.9 658.1,306.5 C658.8,306.1 659.6,305.8 660.3,305.4 C661.0,305.0 661.8,304.7 662.5,304.4 C663.3,304.1 664.0,303.8 664.8,303.5 C665.6,303.2 666.3,303.0 667.1,302.8 C667.9,302.5 668.6,302.3 669.4,302.1 C670.2,301.9 671.0,301.8 671.8,301.6 C672.5,301.5 673.3,301.4 674.1,301.3 C674.9,301.2 675.7,301.1 676.5,301.1 C677.3,301.0 678.1,301.0 678.9,301.0 C679.7,301.0 680.4,301.0 681.2,301.1 C682.0,301.2 682.8,301.3 683.6,301.4 C684.4,301.5 685.2,301.7 686.0,301.9 C686.8,302.1 687.6,302.3 688.4,302.6 C689.1,302.8 689.9,303.1 690.7,303.5 C691.5,303.8 692.2,304.2 693.0,304.6 C693.8,305.0 694.5,305.5 695.3,306.0 C696.1,306.4 697.2,307.3 697.6,307.5" fill="none" stroke="#000" stroke-width="3.2" stroke-linejoin="round" stroke-linecap="round"/>
<path d="M716.9,316.4 C716.5,316.2 715.4,315.3 714.6,314.9 C713.8,314.4 713.1,314.1 712.3,313.7 C711.5,313.4 710.7,313.2 709.9,312.9 C709.1,312.7 708.3,312.6 707.5,312.5 C706.7,312.3 705.9,312.3 705.1,312.2 C704.3,312.2 703.5,312.2 702.7,312.3 C701.8,312.3 701.0,312.4 700.2,312.5 C699.4,312.7 698.6,312.8 697.8,313.0 C697.0,313.2 696.2,313.4 695.4,313.6 C694.6,313.8 693.8,314.1 693.0,314.3 C692.2,314.6 691.4,314.9 690.6,315.2 C689.9,315.5 689.1,315.8 688.3,316.2 C687.5,316.5 686.8,316.8 686.0,317.2 C685.3,317.6 684.5,318.0 683.8,318.4 C683.0,318.8 682.3,319.2 681.5,319.6 C680.8,320.0 680.1,320.5 679.4,320.9 C678.6,321.4 677.9,321.9 677.2,322.3 C676.5,322.8 675.8,323.3 675.1,323.8 C674.4,324.3 673.7,324.8 673.0,325.3 C672.3,325.8 671.6,326.3 671.0,326.9 C670.3,327.4 669.6,327.9 668.9,328.5 C668.3,329.0 667.6,329.6 667.0,330.1 C666.3,330.7 665.6,331.3 665.0,331.8 C664.4,332.4 663.7,333.0 663.1,333.5 C662.5,334.1 661.8,334.7 661.2,335.2 C660.6,335.8 660.0,336.4 659.4,337.0 C658.8,337.6 658.2,338.1 657.6,338.7 C657.0,339.3 656.4,339.9 655.8,340.5 C655.2,341.1 654.6,341.7 654.1,342.3 C653.5,342.9 652.9,343.5 652.4,344.1 C651.8,344.7 651.3,345.3 650.7,345.9 C650.2,346.6 649.7,347.2 649.1,347.8 C648.6,348.4 648.1,349.1 647.6,349.7 C647.1,350.4 646.6,351.0 646.1,351.7 C645.6,352.3 645.1,353.0 644.6,353.6 C644.2,354.3 643.7,355.0 643.2,355.6 C642.8,356.3 642.3,357.0 641.9,357.7 C641.4,358.4 641.0,359.1 640.6,359.8 C640.2,360.5 639.7,361.2 639.3,361.9 C638.9,362.6 638.5,363.4 638.1,364.1 C637.8,364.8 637.4,365.6 637.0,366.3 C636.6,367.1 636.3,367.8 635.9,368.6 C635.6,369.4 635.3,370.2 634.9,371.0 C634.6,371.7 634.3,372.5 634.0,373.4 C633.7,374.2 633.4,375.0 633.1,375.8 C632.8,376.6 632.5,377.5 632.3,378.3 C632.0,379.2 631.8,380.0 631.5,380.9 C631.3,381.7 631.1,382.6 630.9,383.5 C630.7,384.3 630.5,385.2 630.3,386.1 C630.2,387.0 630.0,387.8 629.9,388.7 C629.8,389.6 629.7,390.5 629.6,391.3 C629.5,392.2 629.4,393.1 629.4,393.9 C629.4,394.8 629.3,395.6 629.4,396.5 C629.4,397.3 629.4,398.2 629.5,399.0 C629.5,399.8 629.6,400.7 629.7,401.5 C629.9,402.3 630.0,403.1 630.2,403.9 C630.3,404.7 630.6,405.4 630.8,406.2 C631.0,407.0 631.3,407.7 631.6,408.4 C631.9,409.2 632.3,409.9 632.6,410.6 C633.0,411.3 633.4,412.0 633.8,412.6 C634.3,413.3 634.7,413.9 635.2,414.6 C635.7,415.2 636.2,415.8 636.7,416.4 C637.2,417.1 637.8,417.7 638.4,418.2 C638.9,418.8 639.5,419.4 640.1,420.0 C640.7,420.5 641.3,421.1 642.0,421.6 C642.6,422.2 643.2,422.7 643.9,423.2 C644.5,423.8 645.2,424.3 645.8,424.8 C646.5,425.3 647.2,425.8 647.9,426.3 C648.5,426.8 649.2,427.3 649.9,427.8 C650.6,428.3 651.3,428.8 652.0,429.3 C652.7,429.8 653.4,430.3 654.1,430.8 C654.8,431.3 655.5,431.8 656.2,432.3 C656.9,432.8 657.5,433.3 658.2,433.8 C658.9,434.3 659.6,434.8 660.3,435.4 C660.9,435.9 661.6,436.4 662.3,436.9 C662.9,437.5 663.6,438.0 664.2,438.6 C664.8,439.1 665.5,439.7 666.1,440.2 C666.7,440.8 667.3,441.4 667.9,442.0 C668.5,442.6 669.1,443.2 669.6,443.8 C670.2,444.4 670.7,445.1 671.3,445.7 C671.8,446.3 672.3,447.0 672.8,447.7 C673.3,448.3 673.8,449.0 674.3,449.7 C674.8,450.3 675.3,451.0 675.7,451.7 C676.2,452.4 676.6,453.1 677.1,453.9 C677.5,454.6 678.0,455.3 678.4,456.0 C678.8,456.7 679.2,457.5 679.6,458.2 C680.0,459.0 680.4,459.7 680.8,460.5 C681.2,461.2 681.6,462.0 681.9,462.7 C682.3,463.5 682.7,464.3 683.0,465.0 C683.4,465.8 683.7,466.6 684.1,467.3 C684.4,468.1 684.8,468.9 685.1,469.7 C685.4,470.4 685.8,471.2 686.1,472.0 C686.4,472.8 686.7,473.6 687.0,474.3 C687.4,475.1 687.7,475.9 688.0,476.7 C688.3,477.5 688.6,478.2 688.9,479.0 C689.2,479.8 689.5,480.6 689.8,481.3 C690.1,482.1 690.4,482.9 690.7,483.7 C691.0,484.4 691.4,485.6 691.5,486.0" fill="none" stroke="#000" stroke-width="3.2" stroke-linejoin="round" stroke-linecap="round"/>
<path d="M712.8,314.2 C713.2,314.4 714.3,315.1 715.0,315.4 C715.7,315.8 716.5,316.1 717.3,316.3 C718.0,316.5 718.8,316.6 719.6,316.7 C720.4,316.8 721.2,316.8 722.0,316.7 C722.8,316.7 723.7,316.6 724.5,316.5 C725.3,316.3 726.1,316.2 727.0,316.0 C727.8,315.8 728.6,315.5 729.4,315.3 C730.3,315.0 731.1,314.7 731.9,314.4 C732.7,314.1 733.5,313.8 734.3,313.4 C735.1,313.1 735.9,312.8 736.7,312.4 C737.5,312.1 738.2,311.8 739.0,311.4 C739.7,311.1 740.5,310.8 741.2,310.4 C742.0,310.1 742.7,309.8 743.5,309.5 C744.2,309.1 744.9,308.8 745.7,308.5 C746.4,308.1 747.2,307.8 747.9,307.5 C748.7,307.2 749.4,306.9 750.2,306.6 C751.0,306.3 751.7,305.9 752.5,305.6 C753.3,305.3 754.1,305.1 754.9,304.8 C755.8,304.5 756.6,304.2 757.4,303.9 C758.3,303.7 759.2,303.4 760.1,303.1 C760.9,302.9 761.9,302.7 762.7,302.5 C763.6,302.4 764.4,302.3 765.2,302.4 C766.0,302.4 766.8,302.6 767.5,302.8 C768.2,303.0 768.8,303.4 769.5,303.8 C770.1,304.2 770.6,304.7 771.2,305.2 C771.7,305.7 772.2,306.4 772.6,307.0 C773.1,307.6 773.5,308.4 773.9,309.1 C774.3,309.8 774.6,310.6 774.9,311.4 C775.2,312.2 775.4,313.0 775.7,313.8 C775.9,314.6 776.1,315.4 776.2,316.2 C776.4,317.1 776.5,317.9 776.6,318.7 C776.7,319.6 776.8,320.4 776.9,321.2 C776.9,322.1 777.0,322.9 777.0,323.8 C777.0,324.6 777.0,325.5 777.0,326.3 C777.0,327.2 777.0,328.0 776.9,328.9 C776.9,329.7 776.9,330.6 776.8,331.4 C776.8,332.3 776.8,333.1 776.7,334.0 C776.7,334.8 776.7,335.7 776.6,336.5 C776.6,337.4 776.6,338.2 776.6,339.1 C776.5,339.9 776.5,340.8 776.5,341.6 C776.5,342.5 776.5,343.3 776.5,344.1 C776.5,345.0 776.5,345.8 776.5,346.7 C776.5,347.5 776.5,348.3 776.5,349.2 C776.5,350.0 776.5,350.9 776.5,351.7 C776.5,352.5 776.6,353.4 776.6,354.2 C776.6,355.0 776.6,355.9 776.7,356.7 C776.7,357.5 776.7,358.4 776.8,359.2 C776.8,360.0 776.9,360.8 776.9,361.7 C777.0,362.5 777.0,363.3 777.1,364.2 C777.1,365.0 777.2,365.8 777.2,366.6 C777.3,367.5 777.3,368.3 777.4,369.1 C777.5,369.9 777.5,370.8 777.6,371.6 C777.7,372.4 777.7,373.2 777.8,374.1 C777.9,374.9 778.0,375.7 778.0,376.5 C778.1,377.3 778.2,378.2 778.3,379.0 C778.4,379.8 778.5,380.6 778.6,381.4 C778.7,382.3 778.8,383.1 778.8,383.9 C778.9,384.7 779.0,385.5 779.1,386.4 C779.2,387.2 779.3,388.0 779.5,388.8 C779.6,389.6 779.7,390.5 779.8,391.3 C779.9,392.1 780.0,392.9 780.1,393.7 C780.2,394.5 780.3,395.4 780.5,396.2 C780.6,397.0 780.7,397.8 780.8,398.6 C780.9,399.4 781.1,400.3 781.2,401.1 C781.3,401.9 781.4,402.7 781.6,403.5 C781.7,404.3 781.8,405.2 782.0,406.0 C782.1,406.8 782.2,407.6 782.4,408.4 C782.5,409.2 782.6,410.1 782.8,410.9 C782.9,411.7 783.1,412.5 783.2,413.3 C783.3,414.1 783.5,415.0 783.6,415.8 C783.8,416.6 783.9,417.4 784.1,418.2 C784.2,419.0 784.4,419.9 784.5,420.7 C784.7,421.5 784.8,422.3 785.0,423.1 C785.1,424.0 785.3,424.8 785.4,425.6 C785.6,426.4 785.7,427.2 785.9,428.1 C786.0,428.9 786.2,429.7 786.3,430.5 C786.5,431.3 786.7,432.2 786.8,433.0 C787.0,433.8 787.1,434.6 787.3,435.5 C787.4,436.3 787.6,437.1 787.8,437.9 C787.9,438.8 788.1,439.6 788.2,440.4 C788.4,441.2 788.6,442.1 788.7,442.9 C788.9,443.7 789.0,444.6 789.2,445.4 C789.4,446.2 789.5,447.1 789.7,447.9 C789.8,448.7 790.0,449.5 790.2,450.4 C790.3,451.2 790.5,452.1 790.6,452.9 C790.8,453.7 791.0,454.6 791.1,455.4 C791.3,456.2 791.4,457.1 791.6,457.9 C791.8,458.7 791.9,459.6 792.1,460.4 C792.2,461.3 792.4,462.1 792.6,463.0 C792.7,463.8 792.9,464.6 793.0,465.5 C793.2,466.3 793.3,467.2 793.4,468.0 C793.6,468.9 793.7,469.7 793.9,470.5 C794.0,471.4 794.1,472.2 794.2,473.1 C794.4,473.9 794.5,474.7 794.6,475.6 C794.7,476.4 794.8,477.3 794.9,478.1 C795.0,478.9 795.1,479.8 795.1,480.6 C795.2,481.4 795.3,482.3 795.3,483.1 C795.4,483.9 795.4,484.8 795.5,485.6 C795.5,486.4 795.5,487.3 795.6,488.1 C795.6,488.9 795.6,489.7 795.6,490.5 C795.6,491.4 795.5,492.2 795.5,493.0 C795.5,493.8 795.4,494.6 795.3,495.4 C795.3,496.2 795.2,497.0 795.1,497.8 C795.0,498.6 794.9,499.4 794.8,500.2 C794.6,501.0 794.5,501.8 794.3,502.6 C794.2,503.4 794.0,504.2 793.8,504.9 C793.6,505.7 793.4,506.5 793.2,507.3 C792.9,508.0 792.7,508.8 792.4,509.6 C792.1,510.3 791.8,511.1 791.5,511.8 C791.2,512.6 790.9,513.3 790.5,514.1 C790.2,514.8 789.8,515.5 789.4,516.3 C789.0,517.0 788.6,517.7 788.2,518.4 C787.7,519.1 787.3,519.8 786.8,520.5 C786.3,521.2 785.8,521.9 785.3,522.6 C784.8,523.3 784.3,524.0 783.8,524.6 C783.2,525.3 782.7,525.9 782.1,526.6 C781.6,527.2 781.0,527.8 780.4,528.5 C779.8,529.1 779.2,529.7 778.6,530.3 C778.0,530.9 777.4,531.4 776.7,532.0 C776.1,532.6 775.5,533.1 774.8,533.7 C774.2,534.2 773.5,534.7 772.8,535.2 C772.2,535.7 771.5,536.2 770.8,536.7 C770.1,537.2 769.5,537.6 768.8,538.1 C768.1,538.5 767.4,539.0 766.7,539.4 C766.0,539.8 765.2,540.2 764.5,540.6 C763.8,541.0 763.1,541.4 762.4,541.8 C761.6,542.2 760.9,542.5 760.2,542.9 C759.4,543.3 758.7,543.6 758.0,544.0 C757.2,544.3 756.5,544.7 755.7,545.0 C754.9,545.4 754.2,545.7 753.4,546.0 C752.7,546.4 751.9,546.7 751.1,547.0 C750.4,547.4 749.6,547.7 748.8,548.0 C748.0,548.4 747.2,548.7 746.5,549.0 C745.7,549.4 744.9,549.7 744.1,550.1 C743.3,550.4 742.5,550.8 741.7,551.1 C740.9,551.5 740.1,551.8 739.3,552.2 C738.5,552.6 737.7,553.0 736.9,553.3 C736.1,553.7 735.3,554.1 734.5,554.4 C733.7,554.8 732.9,555.1 732.1,555.4 C731.3,555.7 730.5,555.9 729.7,556.1 C728.9,556.2 728.1,556.4 727.4,556.4 C726.6,556.4 725.8,556.3 725.0,556.2 C724.3,556.1 723.5,555.9 722.7,555.6 C722.0,555.3 721.3,555.0 720.5,554.6 C719.8,554.2 719.1,553.7 718.4,553.3 C717.7,552.8 717.1,552.2 716.4,551.7 C715.8,551.1 715.2,550.5 714.6,549.9 C714.0,549.3 713.4,548.7 712.8,548.1 C712.3,547.4 711.8,546.8 711.2,546.1 C710.7,545.5 710.3,544.8 709.8,544.1 C709.4,543.4 708.9,542.7 708.5,542.0 C708.1,541.3 707.7,540.6 707.3,539.8 C706.9,539.1 706.6,538.4 706.2,537.6 C705.9,536.9 705.6,536.1 705.2,535.4 C704.9,534.6 704.6,533.8 704.3,533.1 C704.1,532.3 703.8,531.5 703.5,530.7 C703.3,529.9 703.0,529.1 702.8,528.3 C702.5,527.5 702.3,526.7 702.1,525.9 C701.8,525.1 701.6,524.3 701.4,523.5 C701.2,522.7 701.0,521.8 700.8,521.0 C700.6,520.2 700.4,519.4 700.2,518.5 C700.0,517.7 699.8,516.9 699.6,516.1 C699.4,515.2 699.2,514.4 699.0,513.6 C698.8,512.8 698.6,511.9 698.4,511.1 C698.2,510.3 698.0,509.5 697.8,508.6 C697.6,507.8 697.4,507.0 697.2,506.2 C697.0,505.4 696.7,504.5 696.5,503.7 C696.3,502.9 696.1,502.1 695.8,501.3 C695.6,500.5 695.3,499.7 695.1,498.9 C694.9,498.1 694.6,497.3 694.4,496.5 C694.1,495.7 693.9,494.9 693.6,494.1 C693.4,493.3 693.1,492.5 692.9,491.7 C692.6,490.9 692.3,490.1 692.1,489.3 C691.8,488.5 691.6,487.7 691.3,486.9 C691.1,486.1 690.8,485.3 690.6,484.5 C690.3,483.8 690.1,483.0 689.8,482.2 C689.6,481.4 689.3,480.6 689.1,479.8 C688.8,479.0 688.6,478.2 688.4,477.4 C688.1,476.6 687.9,475.8 687.7,475.0 C687.4,474.2 687.2,473.4 687.0,472.6 C686.7,471.8 686.5,471.0 686.3,470.2 C686.1,469.4 685.9,468.7 685.7,467.9 C685.4,467.1 685.2,466.3 685.0,465.5 C684.8,464.7 684.6,463.9 684.4,463.1 C684.2,462.3 684.0,461.5 683.8,460.7 C683.6,459.9 683.4,459.0 683.2,458.2 C683.1,457.4 682.9,456.6 682.7,455.8 C682.5,455.0 682.3,454.2 682.2,453.4 C682.0,452.6 681.8,451.8 681.6,451.0 C681.5,450.2 681.3,449.4 681.1,448.6 C681.0,447.8 680.8,446.9 680.7,446.1 C680.5,445.3 680.4,444.5 680.2,443.7 C680.1,442.9 679.9,442.1 679.8,441.2 C679.6,440.4 679.5,439.6 679.4,438.8 C679.2,438.0 679.1,437.2 679.0,436.3 C678.9,435.5 678.7,434.7 678.6,433.9 C678.5,433.0 678.4,432.2 678.3,431.4 C678.2,430.6 678.1,429.7 677.9,428.9 C677.8,428.1 677.7,427.3 677.7,426.4 C677.6,425.6 677.5,424.8 677.4,423.9 C677.3,423.1 677.2,422.3 677.1,421.4 C677.0,420.6 677.0,419.7 676.9,418.9 C676.8,418.1 676.8,417.2 676.7,416.4 C676.6,415.5 676.6,414.7 676.5,413.9 C676.5,413.0 676.4,412.2 676.4,411.3 C676.3,410.5 676.3,409.6 676.3,408.8 C676.2,407.9 676.2,407.1 676.2,406.3 C676.2,405.4 676.1,404.6 676.1,403.7 C676.1,402.9 676.1,402.0 676.1,401.2 C676.1,400.3 676.1,399.5 676.2,398.6 C676.2,397.8 676.2,397.0 676.2,396.1 C676.3,395.3 676.3,394.4 676.4,393.6 C676.4,392.7 676.5,391.9 676.5,391.1 C676.6,390.2 676.7,389.4 676.7,388.6 C676.8,387.7 676.9,386.9 677.0,386.1 C677.1,385.2 677.2,384.4 677.3,383.6 C677.4,382.7 677.6,381.9 677.7,381.1 C677.8,380.3 678.0,379.4 678.1,378.6 C678.3,377.8 678.4,377.0 678.6,376.2 C678.8,375.4 678.9,374.6 679.1,373.8 C679.3,372.9 679.5,372.1 679.7,371.3 C680.0,370.5 680.2,369.7 680.4,369.0 C680.7,368.2 680.9,367.4 681.2,366.6 C681.4,365.8 681.7,365.0 682.0,364.2 C682.2,363.5 682.5,362.7 682.8,361.9 C683.1,361.2 683.5,360.4 683.8,359.6 C684.1,358.9 684.5,358.1 684.8,357.4 C685.2,356.6 685.5,355.9 685.9,355.2 C686.3,354.4 686.7,353.7 687.1,353.0 C687.5,352.3 687.9,351.6 688.3,350.9 C688.7,350.2 689.2,349.5 689.6,348.8 C690.1,348.1 690.5,347.4 691.0,346.7 C691.5,346.1 692.0,345.4 692.5,344.8 C693.0,344.1 693.5,343.5 694.0,342.8 C694.6,342.2 695.1,341.6 695.7,341.0 C696.2,340.4 696.8,339.8 697.4,339.2 C697.9,338.6 698.5,338.0 699.1,337.4 C699.7,336.9 700.3,336.3 701.0,335.7 C701.6,335.2 702.2,334.6 702.9,334.1 C703.5,333.5 704.1,333.0 704.8,332.5 C705.5,332.0 706.1,331.4 706.8,330.9 C707.5,330.4 708.1,329.9 708.8,329.4 C709.5,328.9 710.2,328.4 710.9,327.9 C711.6,327.5 712.3,327.0 713.0,326.5 C713.7,326.0 714.4,325.6 715.1,325.1 C715.9,324.6 716.6,324.2 717.3,323.7 C718.0,323.3 718.8,322.8 719.5,322.4 C720.2,322.0 721.0,321.5 721.7,321.1 C722.4,320.7 723.2,320.2 723.9,319.8 C724.6,319.4 725.4,318.9 726.1,318.5 C726.9,318.1 727.6,317.7 728.3,317.3 C729.1,316.9 729.8,316.5 730.5,316.0 C731.3,315.6 732.0,315.2 732.8,314.8 C733.5,314.4 734.2,314.0 734.9,313.6 C735.7,313.2 736.4,312.8 737.1,312.4 C737.8,312.0 738.6,311.6 739.3,311.2 C740.0,310.8 740.7,310.4 741.4,310.1 C742.1,309.7 742.8,309.3 743.5,308.9 C744.2,308.5 744.9,308.1 745.6,307.8 C746.4,307.4 747.1,307.0 747.8,306.7 C748.5,306.4 749.3,306.1 750.0,305.8 C750.8,305.5 751.5,305.2 752.3,304.9 C753.1,304.7 753.9,304.5 754.8,304.3 C755.6,304.1 756.4,303.9 757.3,303.8 C758.2,303.7 759.6,303.6 760.1,303.6" fill="none" stroke="#000" stroke-width="3.2" stroke-linejoin="round" stroke-linecap="round"/>
<path d="M775.7,318.7 C775.5,318.2 775.0,316.7 774.6,315.9 C774.1,315.0 773.7,314.3 773.2,313.7 C772.7,313.1 772.2,312.6 771.6,312.1 C771.0,311.7 770.4,311.4 769.8,311.2 C769.2,310.9 768.5,310.8 767.9,310.7 C767.2,310.6 766.5,310.6 765.8,310.6 C765.1,310.7 764.3,310.8 763.6,310.9 C762.8,311.1 762.1,311.3 761.3,311.5 C760.5,311.8 759.7,312.1 758.9,312.4 C758.1,312.7 757.3,313.1 756.5,313.5 C755.7,313.8 754.9,314.2 754.1,314.6 C753.3,315.0 752.5,315.4 751.8,315.8 C751.0,316.2 750.2,316.6 749.4,317.1 C748.6,317.5 747.8,317.9 747.1,318.3 C746.3,318.7 745.5,319.1 744.8,319.5 C744.0,319.9 743.3,320.4 742.5,320.8 C741.8,321.2 741.0,321.6 740.3,322.0 C739.5,322.4 738.8,322.9 738.0,323.3 C737.3,323.7 736.6,324.1 735.8,324.6 C735.1,325.0 734.4,325.4 733.7,325.8 C732.9,326.3 732.2,326.7 731.5,327.1 C730.8,327.6 730.0,328.0 729.3,328.4 C728.6,328.9 727.9,329.3 727.2,329.7 C726.5,330.2 725.7,330.6 725.0,331.0 C724.3,331.5 723.6,331.9 722.9,332.4 C722.2,332.8 721.5,333.3 720.7,333.7 C720.0,334.1 719.3,334.6 718.6,335.0 C717.9,335.5 717.2,336.0 716.5,336.4 C715.8,336.9 715.1,337.3 714.4,337.8 C713.7,338.3 713.0,338.8 712.3,339.2 C711.7,339.7 711.0,340.2 710.3,340.7 C709.6,341.2 709.0,341.7 708.3,342.2 C707.7,342.7 707.0,343.2 706.4,343.8 C705.7,344.3 705.1,344.8 704.5,345.4 C703.9,345.9 703.3,346.5 702.7,347.0 C702.1,347.6 701.5,348.2 700.9,348.8 C700.4,349.4 699.8,350.0 699.2,350.6 C698.7,351.2 698.2,351.8 697.7,352.5 C697.1,353.1 696.6,353.8 696.2,354.5 C695.7,355.1 695.2,355.8 694.8,356.5 C694.3,357.2 693.9,357.9 693.5,358.7 C693.0,359.4 692.6,360.1 692.2,360.9 C691.9,361.6 691.5,362.4 691.1,363.1 C690.8,363.9 690.4,364.7 690.1,365.5 C689.8,366.3 689.4,367.1 689.1,367.9 C688.8,368.7 688.5,369.5 688.3,370.3 C688.0,371.1 687.7,371.9 687.5,372.7 C687.2,373.6 687.0,374.4 686.8,375.2 C686.5,376.0 686.3,376.9 686.1,377.7 C685.9,378.5 685.7,379.4 685.5,380.2 C685.4,381.0 685.2,381.9 685.0,382.7 C684.9,383.5 684.7,384.4 684.6,385.2 C684.4,386.0 684.3,386.9 684.2,387.7 C684.1,388.5 684.0,389.3 683.9,390.2 C683.8,391.0 683.7,391.8 683.6,392.7 C683.5,393.5 683.5,394.3 683.4,395.2 C683.4,396.0 683.3,396.8 683.3,397.6 C683.2,398.5 683.2,399.3 683.2,400.1 C683.2,400.9 683.1,401.8 683.1,402.6 C683.1,403.4 683.1,404.3 683.2,405.1 C683.2,405.9 683.2,406.7 683.2,407.6 C683.2,408.4 683.3,409.2 683.3,410.0 C683.4,410.9 683.4,411.7 683.5,412.5 C683.5,413.3 683.6,414.2 683.7,415.0 C683.7,415.8 683.8,416.6 683.9,417.5 C684.0,418.3 684.1,419.1 684.2,419.9 C684.3,420.8 684.4,421.6 684.5,422.4 C684.6,423.2 684.7,424.1 684.8,424.9 C685.0,425.7 685.1,426.5 685.2,427.3 C685.3,428.2 685.5,429.0 685.6,429.8 C685.8,430.6 685.9,431.5 686.1,432.3 C686.2,433.1 686.4,433.9 686.5,434.7 C686.7,435.6 686.9,436.4 687.0,437.2 C687.2,438.0 687.4,438.8 687.6,439.7 C687.7,440.5 687.9,441.3 688.1,442.1 C688.3,442.9 688.5,443.8 688.7,444.6 C688.9,445.4 689.0,446.2 689.2,447.0 C689.4,447.9 689.6,448.7 689.8,449.5 C690.0,450.3 690.2,451.1 690.5,452.0 C690.7,452.8 690.9,453.6 691.1,454.4 C691.3,455.2 691.5,456.0 691.7,456.9 C691.9,457.7 692.2,458.5 692.4,459.3 C692.6,460.1 692.8,460.9 693.0,461.8 C693.2,462.6 693.5,463.4 693.7,464.2 C693.9,465.0 694.1,465.8 694.4,466.7 C694.6,467.5 694.8,468.3 695.0,469.1 C695.2,469.9 695.5,470.7 695.7,471.6 C695.9,472.4 696.1,473.2 696.4,474.0 C696.6,474.8 696.8,475.6 697.0,476.4 C697.2,477.3 697.5,478.1 697.7,478.9 C697.9,479.7 698.1,480.5 698.3,481.3 C698.5,482.1 698.7,483.0 699.0,483.8 C699.2,484.6 699.4,485.4 699.6,486.2 C699.8,487.0 700.0,487.8 700.2,488.7 C700.4,489.5 700.6,490.3 700.8,491.1 C701.1,491.9 701.3,492.7 701.5,493.5 C701.7,494.3 701.9,495.1 702.1,496.0 C702.3,496.8 702.5,497.6 702.7,498.4 C702.9,499.2 703.2,500.0 703.4,500.8 C703.6,501.6 703.8,502.4 704.0,503.2 C704.2,504.0 704.4,504.9 704.7,505.7 C704.9,506.5 705.1,507.3 705.3,508.1 C705.6,508.9 705.8,509.7 706.0,510.5 C706.2,511.3 706.5,512.1 706.7,512.9 C706.9,513.7 707.2,514.5 707.4,515.3 C707.7,516.1 707.9,516.9 708.1,517.7 C708.4,518.5 708.6,519.3 708.9,520.1 C709.1,520.9 709.4,521.7 709.7,522.5 C709.9,523.3 710.2,524.1 710.5,524.8 C710.7,525.6 711.0,526.4 711.3,527.2 C711.6,528.0 711.9,528.8 712.1,529.6 C712.4,530.4 712.7,531.2 713.0,531.9 C713.3,532.7 713.6,533.5 713.9,534.3 C714.3,535.1 714.6,535.9 714.9,536.6 C715.2,537.4 715.5,538.2 715.9,539.0 C716.2,539.8 716.6,540.5 716.9,541.3 C717.3,542.1 717.6,542.8 718.0,543.6 C718.4,544.3 718.8,545.0 719.2,545.7 C719.7,546.4 720.1,547.1 720.6,547.7 C721.1,548.4 721.6,549.0 722.1,549.6 C722.7,550.1 723.3,550.7 723.9,551.1 C724.5,551.6 725.2,552.0 725.9,552.4 C726.6,552.8 727.4,553.1 728.2,553.4 C729.0,553.6 730.3,553.8 730.8,553.9" fill="none" stroke="#000" stroke-width="3.2" stroke-linejoin="round" stroke-linecap="round"/>
<path d="M449.7,415.4 C449.4,415.1 448.7,414.1 448.1,413.5 C447.6,412.9 447.0,412.3 446.4,411.8 C445.7,411.3 445.1,410.8 444.4,410.3 C443.7,409.9 442.9,409.4 442.2,409.0 C441.4,408.7 440.6,408.3 439.8,408.0 C439.0,407.7 438.2,407.4 437.4,407.1 C436.5,406.9 435.7,406.6 434.8,406.5 C433.9,406.3 433.1,406.1 432.2,406.0 C431.3,405.9 430.4,405.8 429.5,405.7 C428.7,405.6 427.8,405.6 426.9,405.6 C426.1,405.6 425.2,405.6 424.3,405.7 C423.5,405.7 422.7,405.8 421.8,405.9 C421.0,406.1 420.2,406.2 419.4,406.4 C418.6,406.5 417.8,406.7 417.1,407.0 C416.3,407.2 415.5,407.4 414.8,407.7 C414.0,408.0 413.3,408.3 412.6,408.6 C411.8,408.9 411.1,409.3 410.4,409.6 C409.7,410.0 409.0,410.4 408.3,410.8 C407.6,411.2 407.0,411.6 406.3,412.1 C405.6,412.5 405.0,413.0 404.3,413.4 C403.7,413.9 403.1,414.4 402.4,414.9 C401.8,415.5 401.2,416.0 400.6,416.6 C400.0,417.1 399.4,417.7 398.8,418.2 C398.2,418.8 397.6,419.4 397.0,420.0 C396.4,420.6 395.9,421.3 395.3,421.9 C394.7,422.5 394.2,423.2 393.6,423.8 C393.1,424.5 392.5,425.1 392.0,425.8 C391.5,426.5 390.9,427.2 390.4,427.8 C389.9,428.5 389.4,429.2 388.9,429.9 C388.3,430.6 387.8,431.3 387.3,432.1 C386.8,432.8 386.3,433.5 385.9,434.2 C385.4,434.9 384.9,435.7 384.4,436.4 C383.9,437.1 383.4,437.9 383.0,438.6 C382.5,439.3 382.0,440.1 381.5,440.8 C381.1,441.6 380.6,442.3 380.2,443.1 C379.7,443.8 379.3,444.5 378.8,445.3 C378.4,446.0 377.9,446.8 377.5,447.6 C377.1,448.3 376.7,449.1 376.3,449.8 C375.8,450.6 375.4,451.3 375.0,452.1 C374.6,452.9 374.2,453.6 373.9,454.4 C373.5,455.2 373.1,455.9 372.8,456.7 C372.4,457.5 372.0,458.3 371.7,459.0 C371.4,459.8 371.0,460.6 370.7,461.4 C370.4,462.1 370.1,462.9 369.8,463.7 C369.5,464.5 369.2,465.3 368.9,466.1 C368.6,466.8 368.4,467.6 368.1,468.4 C367.8,469.2 367.6,470.0 367.4,470.8 C367.2,471.6 366.9,472.4 366.7,473.2 C366.5,474.0 366.4,474.8 366.2,475.6 C366.0,476.4 365.8,477.2 365.7,478.0 C365.6,478.8 365.4,479.6 365.3,480.4 C365.2,481.2 365.1,482.0 365.0,482.8 C364.9,483.6 364.9,484.4 364.8,485.2 C364.8,486.0 364.8,486.9 364.7,487.7 C364.7,488.5 364.7,489.3 364.7,490.1 C364.8,490.9 364.8,491.8 364.9,492.6 C364.9,493.4 365.0,494.2 365.1,495.0 C365.2,495.9 365.3,496.7 365.4,497.5 C365.6,498.3 365.7,499.1 365.9,500.0 C366.1,500.8 366.3,501.6 366.5,502.5 C366.7,503.3 366.9,504.1 367.2,504.9 C367.4,505.7 367.7,506.6 368.0,507.4 C368.3,508.2 368.7,509.0 369.0,509.7 C369.4,510.5 369.7,511.3 370.2,512.0 C370.6,512.8 371.0,513.5 371.4,514.2 C371.9,515.0 372.4,515.7 372.9,516.3 C373.4,517.0 373.9,517.6 374.5,518.2 C375.1,518.9 375.7,519.4 376.3,520.0 C376.9,520.6 377.6,521.1 378.3,521.6 C378.9,522.0 379.7,522.5 380.4,522.9 C381.2,523.3 381.9,523.7 382.7,524.0 C383.5,524.4 384.3,524.7 385.2,525.0 C386.0,525.3 386.8,525.5 387.6,525.8 C388.5,526.1 389.7,526.4 390.1,526.5" fill="none" stroke="#000" stroke-width="3.2" stroke-linejoin="round" stroke-linecap="round"/>
<path d="M449.9,416.7 C449.4,416.8 448.1,416.9 447.2,417.1 C446.3,417.2 445.4,417.3 444.6,417.5 C443.7,417.7 442.8,417.8 442.0,418.0 C441.2,418.2 440.3,418.4 439.5,418.7 C438.7,418.9 437.9,419.1 437.0,419.4 C436.2,419.7 435.4,419.9 434.7,420.2 C433.9,420.5 433.1,420.8 432.3,421.1 C431.6,421.4 430.8,421.8 430.1,422.1 C429.3,422.5 428.6,422.8 427.9,423.2 C427.1,423.6 426.4,424.0 425.7,424.4 C425.0,424.8 424.3,425.2 423.6,425.6 C422.9,426.0 422.2,426.5 421.6,426.9 C420.9,427.4 420.2,427.9 419.6,428.3 C418.9,428.8 418.3,429.3 417.6,429.8 C417.0,430.3 416.4,430.8 415.8,431.4 C415.1,431.9 414.5,432.4 413.9,433.0 C413.3,433.5 412.7,434.1 412.2,434.7 C411.6,435.2 411.0,435.8 410.5,436.4 C409.9,437.0 409.3,437.6 408.8,438.2 C408.2,438.8 407.7,439.5 407.2,440.1 C406.7,440.7 406.1,441.4 405.6,442.0 C405.1,442.7 404.6,443.3 404.1,444.0 C403.6,444.7 403.1,445.3 402.7,446.0 C402.2,446.7 401.7,447.4 401.2,448.1 C400.8,448.8 400.3,449.5 399.9,450.2 C399.4,450.9 399.0,451.7 398.6,452.4 C398.1,453.1 397.7,453.9 397.3,454.6 C396.9,455.3 396.5,456.1 396.1,456.9 C395.7,457.6 395.3,458.4 394.9,459.1 C394.6,459.9 394.2,460.7 393.8,461.5 C393.5,462.3 393.1,463.0 392.8,463.8 C392.4,464.6 392.1,465.4 391.7,466.2 C391.4,467.0 391.1,467.8 390.7,468.6 C390.4,469.4 390.1,470.3 389.8,471.1 C389.5,471.9 389.2,472.7 388.9,473.5 C388.6,474.4 388.4,475.2 388.1,476.0 C387.8,476.8 387.6,477.7 387.3,478.5 C387.1,479.3 386.8,480.2 386.6,481.0 C386.4,481.9 386.1,482.7 385.9,483.5 C385.7,484.4 385.5,485.2 385.4,486.1 C385.2,486.9 385.0,487.7 384.9,488.6 C384.7,489.4 384.6,490.3 384.4,491.1 C384.3,491.9 384.2,492.8 384.1,493.6 C384.0,494.5 383.9,495.3 383.9,496.1 C383.8,497.0 383.8,497.8 383.8,498.6 C383.7,499.5 383.7,500.3 383.7,501.1 C383.7,501.9 383.8,502.7 383.8,503.6 C383.9,504.4 383.9,505.2 384.0,506.0 C384.1,506.8 384.2,507.6 384.4,508.4 C384.5,509.2 384.6,510.0 384.8,510.8 C385.0,511.6 385.2,512.3 385.4,513.1 C385.6,513.9 385.9,514.7 386.1,515.4 C386.4,516.2 386.7,516.9 387.0,517.7 C387.3,518.4 387.7,519.2 388.0,519.9 C388.4,520.6 388.8,521.4 389.2,522.1 C389.6,522.8 390.0,523.5 390.5,524.2 C390.9,524.8 391.4,525.5 391.9,526.2 C392.4,526.8 392.9,527.5 393.5,528.1 C394.0,528.7 394.6,529.3 395.1,529.9 C395.7,530.5 396.3,531.1 396.9,531.7 C397.5,532.2 398.2,532.8 398.8,533.3 C399.4,533.9 400.1,534.4 400.8,534.9 C401.4,535.4 402.1,535.9 402.8,536.4 C403.5,536.9 404.2,537.4 404.9,537.9 C405.6,538.4 406.3,538.8 407.0,539.3 C407.7,539.7 408.4,540.2 409.2,540.6 C409.9,541.1 411.0,541.7 411.3,541.9 L580,637.7  L580.1,637.6 C580.5,637.8 581.5,638.4 582.3,638.8 C583.0,639.2 583.7,639.6 584.4,640.0 C585.2,640.5 585.9,640.9 586.6,641.3 C587.3,641.7 588.1,642.1 588.8,642.5 C589.5,642.9 590.3,643.3 591.0,643.8 C591.7,644.2 592.4,644.6 593.2,645.0 C593.9,645.4 594.6,645.8 595.3,646.2 C596.1,646.6 596.8,647.1 597.5,647.5 C598.2,647.9 599.0,648.3 599.7,648.7 C600.4,649.1 601.1,649.5 601.9,649.9 C602.6,650.4 603.3,650.8 604.0,651.2 C604.8,651.6 605.5,652.0 606.2,652.4 C607.0,652.8 607.7,653.2 608.4,653.6 C609.1,654.1 609.9,654.5 610.6,654.9 C611.3,655.3 612.0,655.7 612.8,656.1 C613.5,656.5 614.2,656.9 615.0,657.3 C615.7,657.8 616.4,658.2 617.1,658.6 C617.9,659.0 618.6,659.4 619.3,659.8 C620.0,660.2 620.8,660.6 621.5,661.0 C622.2,661.4 623.0,661.8 623.7,662.3 C624.4,662.7 625.1,663.1 625.9,663.5 C626.6,663.9 627.3,664.3 628.1,664.7 C628.8,665.1 629.5,665.5 630.2,665.9 C631.0,666.3 631.7,666.7 632.4,667.2 C633.1,667.6 633.9,668.0 634.6,668.4 C635.3,668.8 636.1,669.2 636.8,669.6 C637.5,670.0 638.3,670.4 639.0,670.8 C639.7,671.2 640.4,671.6 641.2,672.0 C641.9,672.4 642.6,672.9 643.4,673.3 C644.1,673.7 644.8,674.1 645.5,674.5 C646.3,674.9 647.0,675.3 647.7,675.7 C648.5,676.1 649.2,676.5 649.9,676.9 C650.7,677.3 651.4,677.7 652.1,678.1 C652.9,678.5 653.6,678.9 654.3,679.3 C655.0,679.7 655.8,680.1 656.5,680.5 C657.2,680.9 658.0,681.3 658.7,681.7 C659.4,682.1 660.2,682.5 660.9,682.9 C661.6,683.4 662.4,683.8 663.1,684.2 C663.8,684.6 664.6,685.0 665.3,685.4 C666.0,685.8 666.8,686.2 667.5,686.6 C668.2,687.0 669.0,687.4 669.7,687.8 C670.4,688.2 671.2,688.6 671.9,689.0 C672.6,689.4 673.4,689.8 674.1,690.2 C674.8,690.5 675.6,690.9 676.3,691.3 C677.0,691.7 677.8,692.1 678.5,692.5 C679.2,692.9 680.0,693.3 680.7,693.7 C681.4,694.1 682.2,694.5 682.9,694.9 C683.6,695.3 684.4,695.7 685.1,696.1 C685.8,696.5 686.6,696.9 687.3,697.3 C688.1,697.7 688.8,698.1 689.5,698.5 C690.3,698.9 691.0,699.3 691.7,699.6 C692.5,700.0 693.2,700.4 693.9,700.8 C694.7,701.2 695.4,701.6 696.2,702.0 C696.9,702.4 697.6,702.8 698.4,703.2 C699.1,703.6 699.8,704.0 700.6,704.3 C701.3,704.7 702.1,705.1 702.8,705.5 C703.5,705.9 704.3,706.3 705.0,706.7 C705.8,707.1 706.5,707.5 707.2,707.8 C708.0,708.2 708.7,708.6 709.5,709.0 C710.2,709.4 710.9,709.8 711.7,710.2 C712.4,710.6 713.2,710.9 713.9,711.3 C714.6,711.7 715.4,712.1 716.1,712.5 C716.9,712.9 717.6,713.3 718.4,713.6 C719.1,714.0 719.8,714.4 720.6,714.8 C721.3,715.2 722.1,715.5 722.8,715.9 C723.5,716.3 724.3,716.7 725.0,717.1 C725.8,717.5 726.5,717.8 727.3,718.2 C728.0,718.6 728.8,719.0 729.5,719.4 C730.2,719.7 731.0,720.1 731.7,720.5 C732.5,720.9 733.2,721.2 734.0,721.6 C734.7,722.0 735.5,722.4 736.2,722.8 C737.0,723.1 737.7,723.5 738.5,723.9 C739.2,724.3 739.9,724.6 740.7,725.0 C741.4,725.4 742.2,725.8 742.9,726.1 C743.7,726.5 744.4,726.9 745.2,727.2 C745.9,727.6 746.7,728.0 747.4,728.4 C748.2,728.7 748.9,729.1 749.7,729.5 C750.4,729.8 751.2,730.2 751.9,730.6 C752.7,731.0 753.4,731.3 754.2,731.7 C754.9,732.1 755.7,732.4 756.4,732.8 C757.2,733.2 757.9,733.5 758.7,733.9 C759.4,734.3 760.2,734.6 760.9,735.0 C761.7,735.4 762.4,735.7 763.2,736.1 C764.0,736.5 764.7,736.8 765.5,737.2 C766.2,737.5 767.0,737.9 767.7,738.3 C768.5,738.6 769.2,739.0 770.0,739.4 C770.7,739.7 771.5,740.1 772.3,740.4 C773.0,740.8 773.8,741.1 774.5,741.5 C775.3,741.9 776.0,742.2 776.8,742.6 C777.6,742.9 778.3,743.3 779.1,743.7 C779.8,744.0 780.6,744.4 781.3,744.7 C782.1,745.1 782.9,745.4 783.6,745.8 C784.4,746.1 785.1,746.5 785.9,746.8 C786.7,747.2 787.4,747.5 788.2,747.9 C788.9,748.2 789.7,748.6 790.5,748.9 C791.2,749.3 792.0,749.6 792.8,750.0 C793.5,750.3 794.3,750.6 795.1,751.0 C795.8,751.3 796.6,751.6 797.4,752.0 C798.1,752.3 798.9,752.6 799.7,752.9 C800.4,753.2 801.2,753.5 802.0,753.9 C802.8,754.2 803.6,754.5 804.3,754.7 C805.1,755.0 805.9,755.3 806.7,755.6 C807.5,755.9 808.2,756.2 809.0,756.4 C809.8,756.7 810.6,756.9 811.4,757.2 C812.2,757.4 813.0,757.7 813.8,757.9 C814.6,758.1 815.4,758.3 816.2,758.5 C817.0,758.8 817.8,759.0 818.6,759.1 C819.4,759.3 820.2,759.5 821.1,759.7 C821.9,759.8 822.7,760.0 823.5,760.1 C824.3,760.3 825.2,760.4 826.0,760.5 C826.8,760.7 827.6,760.8 828.5,760.9 C829.3,761.0 830.1,761.1 831.0,761.1 C831.8,761.2 832.6,761.3 833.5,761.3 C834.3,761.4 835.1,761.4 836.0,761.4 C836.8,761.4 837.6,761.5 838.5,761.4 C839.3,761.4 840.1,761.4 841.0,761.4 C841.8,761.4 842.7,761.3 843.5,761.3 C844.3,761.2 845.2,761.1 846.0,761.0 C846.8,761.0 847.7,760.9 848.5,760.7 C849.3,760.6 850.1,760.5 851.0,760.4 C851.8,760.2 852.6,760.1 853.4,759.9 C854.3,759.7 855.1,759.5 855.9,759.3 C856.7,759.1 857.5,758.9 858.3,758.7 C859.1,758.5 859.9,758.2 860.7,758.0 C861.5,757.7 862.3,757.5 863.1,757.2 C863.9,756.9 864.7,756.6 865.5,756.3 C866.3,756.0 867.1,755.7 867.8,755.4 C868.6,755.0 869.4,754.7 870.1,754.3 C870.9,754.0 871.6,753.6 872.4,753.2 C873.1,752.9 873.9,752.5 874.6,752.1 C875.4,751.7 876.1,751.2 876.8,750.8 C877.5,750.4 878.2,749.9 879.0,749.5 C879.7,749.0 880.4,748.6 881.1,748.1 C881.7,747.6 882.4,747.1 883.1,746.6 C883.8,746.1 884.4,745.6 885.1,745.1 C885.8,744.6 886.4,744.1 887.0,743.5 C887.7,743.0 888.6,742.1 888.9,741.9" fill="none" stroke="#000" stroke-width="3.2" stroke-linejoin="round" stroke-linecap="round"/>
<path d="M453.9,420.3 C453.4,420.3 452.1,420.4 451.3,420.4 C450.4,420.5 449.5,420.6 448.7,420.7 C447.8,420.8 447.0,420.9 446.1,421.1 C445.3,421.2 444.5,421.4 443.6,421.6 C442.8,421.7 442.0,421.9 441.2,422.2 C440.4,422.4 439.6,422.6 438.8,422.9 C438.0,423.1 437.2,423.4 436.4,423.7 C435.6,424.0 434.9,424.3 434.1,424.6 C433.3,424.9 432.6,425.2 431.8,425.6 C431.1,426.0 430.3,426.3 429.6,426.7 C428.8,427.1 428.1,427.5 427.4,427.9 C426.7,428.3 426.0,428.7 425.3,429.2 C424.6,429.6 423.9,430.1 423.2,430.6 C422.5,431.0 421.8,431.5 421.1,432.0 C420.5,432.5 419.8,433.0 419.2,433.5 C418.5,434.1 417.9,434.6 417.2,435.1 C416.6,435.7 416.0,436.3 415.3,436.8 C414.7,437.4 414.1,438.0 413.5,438.6 C412.9,439.2 412.3,439.8 411.7,440.4 C411.2,441.0 410.6,441.6 410.0,442.3 C409.5,442.9 408.9,443.6 408.4,444.2 C407.8,444.9 407.3,445.6 406.8,446.2 C406.3,446.9 405.7,447.6 405.2,448.3 C404.7,449.0 404.2,449.7 403.8,450.4 C403.3,451.1 402.8,451.8 402.3,452.6 C401.9,453.3 401.4,454.0 401.0,454.8 C400.5,455.5 400.1,456.3 399.7,457.0 C399.3,457.8 398.8,458.6 398.4,459.3 C398.0,460.1 397.6,460.9 397.3,461.7 C396.9,462.4 396.5,463.2 396.2,464.0 C395.8,464.8 395.5,465.6 395.1,466.4 C394.8,467.2 394.5,468.0 394.1,468.9 C393.8,469.7 393.5,470.5 393.2,471.3 C393.0,472.1 392.7,473.0 392.4,473.8 C392.1,474.6 391.9,475.4 391.6,476.3 C391.4,477.1 391.2,477.9 390.9,478.8 C390.7,479.6 390.5,480.5 390.3,481.3 C390.1,482.2 389.9,483.0 389.8,483.8 C389.6,484.7 389.4,485.5 389.3,486.4 C389.1,487.2 389.0,488.1 388.9,488.9 C388.8,489.8 388.7,490.6 388.6,491.5 C388.5,492.3 388.4,493.2 388.3,494.0 C388.2,494.9 388.2,495.7 388.1,496.6 C388.1,497.4 388.1,498.3 388.1,499.1 C388.0,500.0 388.0,500.8 388.0,501.7 C388.1,502.5 388.1,503.3 388.1,504.2 C388.2,505.0 388.2,505.9 388.3,506.7 C388.3,507.5 388.4,508.3 388.5,509.2 C388.6,510.0 388.7,510.8 388.8,511.6 C389.0,512.5 389.1,513.3 389.2,514.1 C389.4,514.9 389.6,515.7 389.7,516.5 C389.9,517.3 390.1,518.1 390.3,518.9 C390.5,519.7 390.8,520.5 391.0,521.2 C391.2,522.0 391.5,522.8 391.8,523.6 C392.0,524.3 392.5,525.5 392.6,525.9" fill="none" stroke="#000" stroke-width="2.4" stroke-linejoin="round" stroke-linecap="round"/>
<path d="M449.8,416.6 C450.2,416.7 451.4,417.0 452.2,417.2 C453.0,417.4 453.8,417.7 454.6,418.0 C455.4,418.3 456.2,418.5 457.0,418.9 C457.7,419.2 458.5,419.5 459.3,419.8 C460.0,420.1 460.8,420.5 461.5,420.8 C462.3,421.2 463.0,421.6 463.7,421.9 C464.5,422.3 465.2,422.7 465.9,423.1 C466.7,423.4 467.4,423.8 468.1,424.2 C468.8,424.6 469.6,425.0 470.3,425.4 C471.0,425.8 471.7,426.2 472.5,426.6 C473.2,427.0 473.9,427.4 474.7,427.7 C475.4,428.1 476.1,428.5 476.9,428.9 C477.6,429.3 478.3,429.6 479.1,430.0 C479.8,430.3 480.6,430.7 481.3,431.0 C482.1,431.3 482.8,431.7 483.6,432.0 C484.4,432.3 485.2,432.6 485.9,432.9 C486.7,433.1 487.5,433.4 488.3,433.6 C489.1,433.9 489.9,434.1 490.8,434.3 C491.6,434.5 492.4,434.7 493.2,434.9 C494.1,435.1 494.9,435.2 495.8,435.4 C496.6,435.6 497.5,435.7 498.3,435.9 C499.2,436.0 500.0,436.2 500.8,436.3 C501.7,436.5 502.5,436.6 503.4,436.8 C504.2,437.0 505.1,437.1 505.9,437.3 C506.7,437.5 507.6,437.7 508.4,437.8 C509.2,438.0 510.0,438.3 510.8,438.5 C511.6,438.7 512.4,438.9 513.2,439.2 C514.0,439.5 514.8,439.7 515.5,440.0 C516.3,440.3 517.1,440.6 517.8,440.9 C518.6,441.2 519.3,441.6 520.0,441.9 C520.8,442.2 521.5,442.6 522.2,443.0 C522.9,443.3 523.6,443.7 524.4,444.1 C525.1,444.5 525.8,444.9 526.4,445.3 C527.1,445.7 527.8,446.2 528.5,446.6 C529.2,447.0 529.8,447.5 530.5,448.0 C531.2,448.4 531.8,448.9 532.5,449.4 C533.1,449.8 533.8,450.3 534.4,450.8 C535.1,451.3 535.7,451.8 536.4,452.4 C537.0,452.9 537.6,453.4 538.2,453.9 C538.9,454.5 539.5,455.0 540.1,455.6 C540.7,456.1 541.3,456.7 541.9,457.2 C542.6,457.8 543.2,458.3 543.8,458.9 C544.4,459.5 545.0,460.1 545.6,460.7 C546.2,461.2 546.7,461.8 547.3,462.4 C547.9,463.0 548.5,463.6 549.1,464.2 C549.7,464.8 550.3,465.4 550.8,466.0 C551.4,466.7 552.0,467.3 552.6,467.9 C553.2,468.5 553.7,469.1 554.3,469.8 C554.9,470.4 555.5,471.0 556.0,471.6 C556.6,472.3 557.2,472.9 557.8,473.5 C558.3,474.1 558.9,474.8 559.5,475.4 C560.1,476.0 560.6,476.7 561.2,477.3 C561.8,477.9 562.4,478.6 562.9,479.2 C563.5,479.8 564.1,480.4 564.7,481.1 C565.2,481.7 565.8,482.3 566.4,483.0 C567.0,483.6 567.6,484.2 568.1,484.8 C568.7,485.4 569.3,486.1 569.9,486.7 C570.5,487.3 571.1,487.9 571.7,488.5 C572.3,489.1 572.9,489.7 573.5,490.3 C574.1,490.9 574.7,491.5 575.3,492.1 C575.9,492.7 576.5,493.3 577.1,493.8 C577.7,494.4 578.3,495.0 578.9,495.6 C579.6,496.1 580.2,496.7 580.8,497.2 C581.4,497.8 582.1,498.4 582.7,498.9 C583.3,499.5 584.0,500.0 584.6,500.6 C585.2,501.1 585.9,501.6 586.5,502.2 C587.1,502.7 587.8,503.2 588.4,503.8 C589.1,504.3 589.7,504.8 590.4,505.3 C591.0,505.9 591.7,506.4 592.4,506.9 C593.0,507.4 593.7,507.9 594.3,508.4 C595.0,508.9 595.7,509.4 596.3,509.9 C597.0,510.4 597.7,510.9 598.3,511.4 C599.0,511.9 599.7,512.4 600.4,512.9 C601.0,513.3 601.7,513.8 602.4,514.3 C603.1,514.8 603.7,515.3 604.4,515.7 C605.1,516.2 605.8,516.7 606.5,517.2 C607.2,517.6 607.9,518.1 608.6,518.6 C609.2,519.0 609.9,519.5 610.6,519.9 C611.3,520.4 612.0,520.9 612.7,521.3 C613.4,521.8 614.1,522.2 614.8,522.7 C615.5,523.1 616.2,523.6 616.9,524.0 C617.6,524.5 618.3,524.9 619.0,525.4 C619.7,525.8 620.4,526.3 621.1,526.7 C621.8,527.1 622.5,527.6 623.3,528.0 C624.0,528.5 624.7,528.9 625.4,529.3 C626.1,529.8 626.8,530.2 627.5,530.6 C628.2,531.1 628.9,531.5 629.7,531.9 C630.4,532.4 631.1,532.8 631.8,533.2 C632.5,533.6 633.2,534.1 634.0,534.5 C634.7,534.9 635.4,535.4 636.1,535.8 C636.8,536.2 637.5,536.6 638.3,537.1 C639.0,537.5 639.7,537.9 640.4,538.3 C641.1,538.8 641.8,539.2 642.6,539.6 C643.3,540.0 644.0,540.5 644.7,540.9 C645.4,541.3 646.2,541.7 646.9,542.2 C647.6,542.6 648.3,543.0 649.0,543.4 C649.8,543.9 650.5,544.3 651.2,544.7 C651.9,545.1 652.6,545.6 653.4,546.0 C654.1,546.4 654.8,546.8 655.5,547.3 C656.2,547.7 657.0,548.1 657.7,548.5 C658.4,548.9 659.5,549.6 659.8,549.8 L800,632.1  L799.8,632.1 C800.1,632.3 801.2,632.9 801.9,633.4 C802.6,633.8 803.3,634.2 804.1,634.6 C804.8,635.1 805.5,635.5 806.2,635.9 C806.9,636.4 807.6,636.8 808.3,637.2 C809.1,637.6 809.8,638.1 810.5,638.5 C811.2,638.9 811.9,639.4 812.6,639.8 C813.4,640.2 814.1,640.6 814.8,641.1 C815.5,641.5 816.2,641.9 816.9,642.4 C817.7,642.8 818.4,643.2 819.1,643.6 C819.8,644.1 820.5,644.5 821.2,644.9 C822.0,645.4 822.7,645.8 823.4,646.2 C824.1,646.7 824.8,647.1 825.5,647.5 C826.3,647.9 827.0,648.4 827.7,648.8 C828.4,649.2 829.1,649.7 829.9,650.1 C830.6,650.5 831.3,651.0 832.0,651.4 C832.7,651.8 833.5,652.3 834.2,652.7 C834.9,653.1 835.6,653.6 836.3,654.0 C837.1,654.4 837.8,654.9 838.5,655.3 C839.2,655.7 839.9,656.1 840.7,656.6 C841.4,657.0 842.1,657.4 842.8,657.9 C843.5,658.3 844.3,658.7 845.0,659.2 C845.7,659.6 846.4,660.0 847.2,660.5 C847.9,660.9 848.6,661.4 849.3,661.8 C850.1,662.2 850.8,662.7 851.5,663.1 C852.2,663.5 853.0,664.0 853.7,664.4 C854.4,664.8 855.1,665.3 855.9,665.7 C856.6,666.1 857.3,666.6 858.0,667.0 C858.8,667.4 859.5,667.9 860.2,668.3 C861.0,668.8 861.7,669.2 862.4,669.6 C863.1,670.1 863.9,670.5 864.6,670.9 C865.3,671.4 866.1,671.8 866.8,672.3 C867.5,672.7 868.3,673.1 869.0,673.6 C869.7,674.0 870.5,674.4 871.2,674.9 C871.9,675.3 872.7,675.8 873.4,676.2 C874.1,676.6 874.9,677.1 875.6,677.5 C876.3,678.0 877.1,678.4 877.8,678.8 C878.5,679.3 879.3,679.7 880.0,680.2 C880.8,680.6 881.5,681.0 882.2,681.5 C883.0,681.9 883.7,682.4 884.4,682.8 C885.2,683.3 885.9,683.7 886.7,684.1 C887.4,684.6 888.2,685.0 888.9,685.5 C889.6,685.9 890.4,686.4 891.1,686.8 C891.9,687.2 892.6,687.7 893.4,688.1 C894.1,688.6 894.8,689.0 895.6,689.5 C896.3,689.9 897.1,690.4 897.8,690.8 C898.6,691.3 899.3,691.7 900.0,692.2 C900.8,692.6 901.5,693.1 902.2,693.5 C902.9,694.0 903.5,694.5 904.2,695.0 C904.8,695.5 905.5,696.0 906.1,696.5 C906.7,697.0 907.2,697.5 907.7,698.1 C908.3,698.6 908.8,699.2 909.2,699.8 C909.6,700.4 910.0,701.0 910.4,701.6 C910.7,702.2 911.0,702.9 911.3,703.6 C911.5,704.2 911.7,704.9 911.8,705.7 C911.9,706.4 911.9,707.2 911.9,707.9 C911.9,708.7 911.8,709.6 911.7,710.4 C911.5,711.2 911.3,712.0 911.0,712.8 C910.7,713.6 910.4,714.5 910.0,715.2 C909.5,716.0 909.1,716.7 908.5,717.4 C908.0,718.1 907.4,718.7 906.8,719.3 C906.2,719.9 905.5,720.5 904.8,721.1 C904.2,721.6 903.4,722.1 902.7,722.6 C902.0,723.1 901.2,723.6 900.5,724.1 C899.7,724.6 899.0,725.0 898.2,725.5 C897.4,725.9 896.7,726.4 895.9,726.8 C895.2,727.2 894.4,727.6 893.7,728.0 C892.9,728.5 892.2,728.9 891.4,729.3 C890.7,729.7 890.0,730.0 889.2,730.4 C888.5,730.8 887.7,731.2 887.0,731.5 C886.2,731.9 885.5,732.2 884.7,732.6 C884.0,732.9 883.2,733.3 882.4,733.6 C881.7,734.0 880.9,734.3 880.2,734.6 C879.4,734.9 878.7,735.2 877.9,735.5 C877.1,735.9 876.4,736.2 875.6,736.5 C874.8,736.7 874.1,737.0 873.3,737.3 C872.5,737.6 871.7,737.9 871.0,738.2 C870.2,738.4 869.4,738.7 868.6,739.0 C867.8,739.2 867.0,739.5 866.2,739.7 C865.4,740.0 864.6,740.3 863.8,740.5 C863.0,740.7 862.2,741.0 861.3,741.2 C860.5,741.5 859.7,741.7 858.9,741.9 C858.0,742.2 857.2,742.4 856.3,742.6 C855.5,742.8 854.7,743.0 853.8,743.2 C853.0,743.4 852.1,743.5 851.3,743.7 C850.4,743.8 849.6,744.0 848.7,744.0 C847.9,744.1 847.0,744.2 846.2,744.2 C845.4,744.2 844.5,744.2 843.7,744.2 C842.9,744.1 842.1,744.1 841.3,743.9 C840.4,743.8 839.6,743.6 838.8,743.4 C838.0,743.2 837.3,742.9 836.5,742.7 C835.7,742.4 834.9,742.1 834.1,741.8 C833.3,741.5 832.6,741.2 831.8,740.8 C831.0,740.5 830.3,740.2 829.5,739.8 C828.7,739.5 828.0,739.1 827.2,738.8 C826.4,738.4 825.7,738.1 824.9,737.7 C824.1,737.4 823.4,737.0 822.6,736.7 C821.8,736.3 821.1,736.0 820.3,735.6 C819.5,735.3 818.8,734.9 818.0,734.5 C817.3,734.2 816.5,733.8 815.8,733.4 C815.0,733.1 814.2,732.7 813.5,732.3 C812.7,732.0 812.0,731.6 811.2,731.2 C810.5,730.9 809.7,730.5 809.0,730.1 C808.2,729.7 807.5,729.4 806.7,729.0 C806.0,728.6 805.2,728.2 804.5,727.8 C803.7,727.4 803.0,727.1 802.2,726.7 C801.5,726.3 800.4,725.7 800.0,725.5 L600,613.3  L599.8,613.6 C599.5,613.4 598.4,612.8 597.6,612.4 C596.9,611.9 596.2,611.5 595.5,611.1 C594.7,610.7 594.0,610.3 593.3,609.9 C592.5,609.5 591.8,609.1 591.1,608.6 C590.4,608.2 589.6,607.8 588.9,607.4 C588.2,607.0 587.5,606.6 586.7,606.2 C586.0,605.8 585.3,605.3 584.6,604.9 C583.8,604.5 583.1,604.1 582.4,603.7 C581.7,603.3 580.9,602.8 580.2,602.4 C579.5,602.0 578.8,601.6 578.0,601.2 C577.3,600.8 576.6,600.3 575.9,599.9 C575.1,599.5 574.4,599.1 573.7,598.7 C573.0,598.2 572.2,597.8 571.5,597.4 C570.8,597.0 570.1,596.6 569.4,596.1 C568.6,595.7 567.9,595.3 567.2,594.9 C566.5,594.4 565.8,594.0 565.0,593.6 C564.3,593.2 563.6,592.7 562.9,592.3 C562.2,591.9 561.4,591.5 560.7,591.0 C560.0,590.6 559.3,590.2 558.6,589.7 C557.9,589.3 557.1,588.9 556.4,588.5 C555.7,588.0 555.0,587.6 554.3,587.2 C553.6,586.7 552.8,586.3 552.1,585.9 C551.4,585.4 550.7,585.0 550.0,584.6 C549.3,584.1 548.6,583.7 547.9,583.3 C547.1,582.8 546.4,582.4 545.7,581.9 C545.0,581.5 544.3,581.1 543.6,580.6 C542.9,580.2 542.2,579.7 541.5,579.3 C540.8,578.8 540.1,578.4 539.4,577.9 C538.7,577.5 537.9,577.0 537.2,576.6 C536.5,576.1 535.8,575.7 535.1,575.2 C534.4,574.8 533.7,574.3 533.0,573.9 C532.3,573.4 531.6,573.0 531.0,572.5 C530.3,572.0 529.6,571.6 528.9,571.1 C528.2,570.6 527.5,570.2 526.8,569.7 C526.1,569.2 525.4,568.8 524.7,568.3 C524.0,567.8 523.3,567.4 522.7,566.9 C522.0,566.4 521.3,565.9 520.6,565.5 C519.9,565.0 519.2,564.5 518.6,564.0 C517.9,563.5 517.2,563.0 516.5,562.6 C515.9,562.1 515.2,561.6 514.5,561.1 C513.8,560.6 513.2,560.1 512.5,559.6 C511.8,559.1 511.2,558.6 510.5,558.1 C509.8,557.6 509.2,557.1 508.5,556.6 C507.8,556.1 507.2,555.6 506.5,555.1 C505.9,554.6 505.2,554.0 504.6,553.5 C503.9,553.0 503.3,552.5 502.6,552.0 C502.0,551.4 501.3,550.9 500.7,550.4 C500.0,549.9 499.4,549.3 498.7,548.8 C498.1,548.3 497.5,547.7 496.8,547.2 C496.2,546.6 495.5,546.1 494.9,545.6 C494.3,545.0 493.6,544.5 493.0,543.9 C492.4,543.4 491.8,542.8 491.1,542.2 C490.5,541.7 489.9,541.1 489.3,540.6 C488.7,540.0 488.0,539.4 487.4,538.9 C486.8,538.3 486.2,537.7 485.6,537.1 C485.0,536.5 484.4,536.0 483.8,535.4 C483.2,534.8 482.6,534.2 482.0,533.6 C481.4,533.0 480.8,532.4 480.2,531.8 C479.6,531.2 479.0,530.6 478.5,530.0 C477.9,529.4 477.3,528.8 476.7,528.2 C476.1,527.6 475.6,526.9 475.0,526.3 C474.4,525.7 473.9,525.1 473.3,524.4 C472.8,523.8 472.2,523.2 471.7,522.5 C471.1,521.9 470.6,521.2 470.0,520.6 C469.5,519.9 469.0,519.3 468.5,518.6 C467.9,517.9 467.4,517.3 466.9,516.6 C466.4,515.9 465.9,515.3 465.4,514.6 C464.9,513.9 464.4,513.2 463.9,512.5 C463.4,511.8 463.0,511.1 462.5,510.4 C462.0,509.7 461.6,509.0 461.1,508.3 C460.7,507.6 460.2,506.9 459.8,506.1 C459.4,505.4 458.9,504.7 458.5,503.9 C458.1,503.2 457.7,502.5 457.3,501.7 C456.9,501.0 456.5,500.2 456.2,499.5 C455.8,498.7 455.5,497.9 455.2,497.1 C454.8,496.4 454.5,495.6 454.3,494.8 C454.0,494.0 453.8,493.2 453.6,492.4 C453.4,491.6 453.2,490.8 453.1,490.0 C453.0,489.2 452.9,488.4 452.8,487.6 C452.7,486.8 452.7,485.9 452.7,485.1 C452.7,484.3 452.7,483.5 452.8,482.7 C452.9,481.9 452.9,481.1 453.1,480.3 C453.2,479.5 453.4,478.7 453.5,477.9 C453.7,477.2 453.9,476.4 454.2,475.6 C454.4,474.9 454.7,474.1 455.0,473.4 C455.4,472.7 455.7,472.0 456.1,471.3 C456.4,470.6 456.8,469.9 457.3,469.2 C457.7,468.5 458.2,467.9 458.7,467.3 C459.1,466.6 459.7,466.0 460.2,465.4 C460.7,464.8 461.3,464.2 461.9,463.6 C462.4,463.0 463.0,462.4 463.7,461.9 C464.3,461.3 464.9,460.8 465.6,460.3 C466.3,459.7 466.9,459.2 467.6,458.7 C468.3,458.2 469.0,457.7 469.8,457.2 C470.5,456.7 471.2,456.3 472.0,455.8 C472.7,455.4 473.5,454.9 474.2,454.5 C475.0,454.0 475.8,453.6 476.6,453.2 C477.4,452.8 478.2,452.4 479.0,452.0 C479.8,451.6 480.6,451.2 481.4,450.8 C482.2,450.4 483.0,450.0 483.8,449.7 C484.6,449.3 485.4,449.0 486.3,448.6 C487.1,448.3 487.9,447.9 488.7,447.6 C489.5,447.3 490.3,446.9 491.1,446.6 C491.9,446.3 492.8,446.0 493.5,445.7 C494.3,445.4 495.1,445.1 495.9,444.8 C496.7,444.5 497.5,444.2 498.2,443.9 C499.0,443.6 499.7,443.4 500.5,443.1 C501.2,442.8 501.9,442.5 502.6,442.3 C503.4,442.0 504.1,441.8 504.7,441.5 C505.4,441.2 506.4,440.9 506.7,440.7" fill="none" stroke="#000" stroke-width="3.2" stroke-linejoin="round" stroke-linecap="round"/>
<path d="M497.2,437.3 C496.9,437.5 495.8,438.0 495.1,438.4 C494.4,438.8 493.7,439.1 492.9,439.5 C492.2,439.9 491.4,440.2 490.7,440.6 C490.0,440.9 489.2,441.3 488.4,441.6 C487.7,442.0 486.9,442.3 486.2,442.7 C485.4,443.0 484.6,443.4 483.9,443.7 C483.1,444.1 482.3,444.4 481.6,444.8 C480.8,445.2 480.0,445.5 479.3,445.9 C478.5,446.2 477.7,446.6 477.0,447.0 C476.2,447.3 475.4,447.7 474.7,448.1 C473.9,448.5 473.1,448.9 472.4,449.3 C471.6,449.7 470.9,450.1 470.2,450.5 C469.4,450.9 468.7,451.3 468.0,451.8 C467.2,452.2 466.5,452.7 465.8,453.1 C465.1,453.6 464.4,454.1 463.7,454.5 C463.0,455.0 462.3,455.5 461.7,456.0 C461.0,456.6 460.3,457.1 459.7,457.6 C459.0,458.2 458.4,458.7 457.8,459.3 C457.2,459.9 456.6,460.5 456.0,461.1 C455.4,461.7 454.8,462.3 454.3,463.0 C453.7,463.6 453.2,464.3 452.7,465.0 C452.2,465.6 451.7,466.3 451.2,467.0 C450.7,467.7 450.3,468.5 449.8,469.2 C449.4,469.9 449.0,470.6 448.6,471.4 C448.2,472.1 447.9,472.9 447.6,473.6 C447.2,474.4 447.0,475.2 446.7,475.9 C446.4,476.7 446.2,477.5 446.0,478.3 C445.8,479.1 445.6,479.9 445.5,480.6 C445.3,481.4 445.2,482.2 445.1,483.0 C445.1,483.8 445.0,484.6 445.0,485.4 C445.0,486.2 445.0,487.0 445.1,487.8 C445.1,488.6 445.2,489.4 445.3,490.2 C445.5,491.0 445.6,491.8 445.8,492.6 C445.9,493.4 446.1,494.2 446.3,495.0 C446.5,495.8 446.8,496.6 447.0,497.4 C447.3,498.2 447.5,499.0 447.8,499.8 C448.1,500.6 448.5,501.4 448.8,502.2 C449.1,503.0 449.5,503.8 449.8,504.5 C450.2,505.3 450.6,506.1 451.0,506.9 C451.4,507.7 451.8,508.4 452.2,509.2 C452.6,509.9 453.1,510.7 453.5,511.5 C453.9,512.2 454.4,513.0 454.8,513.7 C455.3,514.4 455.8,515.2 456.2,515.9 C456.7,516.6 457.2,517.3 457.6,518.1 C458.1,518.8 458.6,519.5 459.1,520.2 C459.6,520.9 460.1,521.6 460.6,522.3 C461.1,523.0 461.6,523.6 462.1,524.3 C462.6,525.0 463.1,525.7 463.7,526.3 C464.2,527.0 464.7,527.6 465.2,528.3 C465.8,529.0 466.3,529.6 466.8,530.2 C467.4,530.9 467.9,531.5 468.5,532.2 C469.0,532.8 469.6,533.4 470.1,534.0 C470.7,534.6 471.2,535.3 471.8,535.9 C472.4,536.5 472.9,537.1 473.5,537.7 C474.1,538.3 474.7,538.9 475.2,539.5 C475.8,540.1 476.4,540.7 477.0,541.2 C477.6,541.8 478.2,542.4 478.8,543.0 C479.4,543.6 480.0,544.1 480.6,544.7 C481.2,545.3 481.8,545.8 482.4,546.4 C483.0,546.9 483.6,547.5 484.2,548.1 C484.8,548.6 485.4,549.2 486.1,549.7 C486.7,550.2 487.3,550.8 487.9,551.3 C488.6,551.9 489.2,552.4 489.8,552.9 C490.5,553.5 491.1,554.0 491.7,554.5 C492.4,555.0 493.0,555.6 493.6,556.1 C494.3,556.6 494.9,557.1 495.6,557.6 C496.2,558.2 496.9,558.7 497.5,559.2 C498.2,559.7 498.8,560.2 499.5,560.7 C500.2,561.2 500.8,561.7 501.5,562.2 C502.1,562.7 502.8,563.2 503.5,563.7 C504.1,564.2 504.8,564.7 505.5,565.2 C506.2,565.7 506.8,566.2 507.5,566.6 C508.2,567.1 508.9,567.6 509.5,568.1 C510.2,568.6 510.9,569.1 511.6,569.5 C512.3,570.0 512.9,570.5 513.6,571.0 C514.3,571.4 515.0,571.9 515.7,572.4 C516.4,572.8 517.1,573.3 517.8,573.8 C518.5,574.2 519.2,574.7 519.9,575.2 C520.6,575.6 521.3,576.1 522.0,576.5 C522.7,577.0 523.4,577.4 524.1,577.9 C524.8,578.3 525.5,578.8 526.2,579.2 C526.9,579.7 527.6,580.1 528.3,580.6 C529.0,581.0 529.7,581.5 530.4,581.9 C531.1,582.4 531.9,582.8 532.6,583.3 C533.3,583.7 534.0,584.1 534.7,584.6 C535.4,585.0 536.1,585.5 536.9,585.9 C537.6,586.3 538.3,586.8 539.0,587.2 C539.7,587.6 540.5,588.1 541.2,588.5 C541.9,588.9 542.6,589.3 543.4,589.8 C544.1,590.2 544.8,590.6 545.5,591.1 C546.3,591.5 547.0,591.9 547.7,592.3 C548.4,592.8 549.2,593.2 549.9,593.6 C550.6,594.0 551.3,594.5 552.1,594.9 C552.8,595.3 553.5,595.7 554.3,596.1 C555.0,596.6 555.7,597.0 556.5,597.4 C557.2,597.8 557.9,598.2 558.6,598.7 C559.4,599.1 560.1,599.5 560.8,599.9 C561.6,600.3 562.3,600.7 563.0,601.2 C563.8,601.6 564.5,602.0 565.2,602.4 C566.0,602.8 566.7,603.2 567.4,603.7 C568.2,604.1 568.9,604.5 569.6,604.9 C570.4,605.3 571.1,605.7 571.8,606.1 C572.6,606.6 573.3,607.0 574.0,607.4 C574.8,607.8 575.5,608.2 576.2,608.6 C576.9,609.0 577.7,609.5 578.4,609.9 C579.1,610.3 579.9,610.7 580.6,611.1 C581.3,611.5 582.1,611.9 582.8,612.4 C583.5,612.8 584.2,613.2 585.0,613.6 C585.7,614.0 586.4,614.4 587.2,614.9 C587.9,615.3 588.6,615.7 589.3,616.1 C590.1,616.5 590.8,616.9 591.5,617.4 C592.2,617.8 593.0,618.2 593.7,618.6 C594.4,619.0 595.1,619.4 595.9,619.8 C596.6,620.3 597.3,620.7 598.0,621.1 C598.8,621.5 599.9,622.1 600.2,622.3 L800,736.2  L799.9,736.0 C800.2,736.2 801.3,736.8 802.1,737.2 C802.8,737.6 803.5,738.0 804.3,738.4 C805.0,738.8 805.8,739.2 806.5,739.6 C807.3,740.0 808.0,740.4 808.7,740.8 C809.5,741.2 810.2,741.6 811.0,742.0 C811.7,742.4 812.5,742.8 813.2,743.2 C814.0,743.5 814.8,743.9 815.5,744.3 C816.3,744.7 817.0,745.1 817.8,745.5 C818.6,745.9 819.3,746.2 820.1,746.6 C820.9,747.0 821.6,747.4 822.4,747.8 C823.2,748.1 824.0,748.5 824.7,748.9 C825.5,749.2 826.3,749.6 827.1,749.9 C827.9,750.3 828.6,750.6 829.4,750.9 C830.2,751.3 831.0,751.6 831.8,751.9 C832.6,752.2 833.4,752.5 834.2,752.8 C835.0,753.0 835.8,753.3 836.6,753.5 C837.3,753.8 838.1,754.0 838.9,754.2 C839.7,754.4 840.5,754.6 841.3,754.8 C842.2,755.0 843.0,755.1 843.8,755.2 C844.6,755.3 845.4,755.5 846.2,755.5 C847.0,755.6 847.8,755.7 848.6,755.7 C849.4,755.7 850.2,755.7 851.0,755.7 C851.8,755.7 852.6,755.6 853.5,755.5 C854.3,755.5 855.1,755.4 855.9,755.2 C856.7,755.1 857.5,755.0 858.3,754.8 C859.1,754.7 859.9,754.5 860.7,754.3 C861.5,754.1 862.3,753.9 863.1,753.7 C863.9,753.4 864.7,753.2 865.5,752.9 C866.3,752.7 867.1,752.4 867.9,752.1 C868.6,751.8 869.4,751.5 870.2,751.2 C871.0,750.9 871.7,750.6 872.5,750.3 C873.3,749.9 874.0,749.6 874.8,749.2 C875.6,748.9 876.3,748.5 877.1,748.2 C877.8,747.8 878.5,747.4 879.3,747.1 C880.0,746.7 880.8,746.3 881.5,745.9 C882.2,745.5 883.0,745.1 883.7,744.7 C884.5,744.3 885.2,743.9 885.9,743.5 C886.7,743.1 887.4,742.7 888.1,742.2 C888.9,741.8 889.6,741.4 890.3,740.9 C891.1,740.5 891.8,740.1 892.5,739.6 C893.3,739.2 894.0,738.8 894.8,738.3 C895.5,737.9 896.3,737.4 897.0,737.0 C897.8,736.5 898.5,736.0 899.3,735.6 C900.0,735.1 900.8,734.6 901.5,734.2 C902.2,733.7 903.0,733.2 903.7,732.7 C904.4,732.2 905.1,731.7 905.8,731.2 C906.5,730.7 907.1,730.2 907.8,729.6 C908.4,729.1 909.1,728.5 909.7,728.0 C910.3,727.4 910.9,726.8 911.4,726.3 C912.0,725.7 912.5,725.1 913.0,724.4 C913.5,723.8 913.9,723.2 914.3,722.5 C914.8,721.8 915.2,721.2 915.5,720.5 C915.8,719.8 916.1,719.1 916.4,718.4 C916.6,717.6 916.8,716.9 917.0,716.2 C917.1,715.4 917.2,714.7 917.2,713.9 C917.3,713.2 917.3,712.4 917.2,711.7 C917.1,710.9 916.9,710.1 916.7,709.4 C916.5,708.6 916.2,707.8 915.8,707.1 C915.4,706.3 915.0,705.5 914.4,704.8 C913.9,704.0 913.3,703.3 912.6,702.5 C911.9,701.8 910.6,700.7 910.2,700.3" fill="none" stroke="#000" stroke-width="3.2" stroke-linejoin="round" stroke-linecap="round"/>
<line x1="302.2" y1="264.5" x2="302.2" y2="462" stroke="#000" stroke-width="1.55"/>
<line x1="700.4" y1="36.5" x2="700.4" y2="278.4" stroke="#000" stroke-width="1.55"/>
<line x1="302.5" y1="266.4" x2="464.3" y2="174" stroke="#000" stroke-width="1.55"/>
<line x1="538.8" y1="130.3" x2="700.4" y2="37.9" stroke="#000" stroke-width="1.55"/>
<path d="M302.5,266.4 L322.5,246.0 L330.2,259.4Z" fill="#000"/>
<path d="M700.4,37.9 L680.4,58.3 L672.7,44.9Z" fill="#000"/>
<line x1="609.6" y1="126.5" x2="609.6" y2="247.3" stroke="#000" stroke-width="1.55"/>
<line x1="758.8" y1="212" x2="758.8" y2="541.4" stroke="#000" stroke-width="1.55"/>
<line x1="609.7" y1="128.7" x2="788.3" y2="231.5" stroke="#000" stroke-width="1.55"/>
<path d="M609.7,128.7 L637.4,135.6 L629.8,149.0Z" fill="#000"/>
<path d="M758.8,213.8 L731.1,206.9 L738.7,193.5Z" fill="#000"/>
<line x1="363.5" y1="289.6" x2="490" y2="289.5" stroke="#000" stroke-width="1.55"/>
<path d="M499.0,289.4 L478.4,297.1 L478.4,281.7Z" fill="#000"/>
<line x1="110.9" y1="391" x2="250" y2="391" stroke="#000" stroke-width="1.55"/>
<path d="M259.6,390.9 L239.6,398.6 L239.6,383.2Z" fill="#000"/>
<line x1="228" y1="468" x2="228" y2="524.2" stroke="#000" stroke-width="1.55"/>
<line x1="228" y1="572.5" x2="228" y2="631" stroke="#000" stroke-width="1.55"/>
<path d="M228.0,467.9 L235.7,495.4 L220.3,495.4Z" fill="#000"/>
<path d="M228.0,630.9 L220.3,603.4 L235.7,603.4Z" fill="#000"/>
<line x1="227" y1="468.3" x2="347.3" y2="397.6" stroke="#000" stroke-width="1.55"/>
<line x1="227.8" y1="631" x2="501.2" y2="474.2" stroke="#000" stroke-width="1.55"/>
<line x1="855.3" y1="471.7" x2="855.3" y2="511.7" stroke="#000" stroke-width="1.55"/>
<line x1="855.3" y1="559.6" x2="855.3" y2="602" stroke="#000" stroke-width="1.55"/>
<path d="M855.3,471.7 L863.0,499.2 L847.6,499.2Z" fill="#000"/>
<path d="M855.3,602.2 L847.6,573.7 L863.0,573.7Z" fill="#000"/>
<line x1="653.6" y1="354.5" x2="856.2" y2="471.6" stroke="#000" stroke-width="1.55"/>
<line x1="758.7" y1="545.4" x2="856.6" y2="602" stroke="#000" stroke-width="1.55"/>
<line x1="391" y1="535.2" x2="391" y2="705.8" stroke="#000" stroke-width="1.55"/>
<line x1="391.7" y1="633" x2="579.5" y2="740.5" stroke="#000" stroke-width="1.55"/>
<line x1="651.7" y1="782.5" x2="840.3" y2="889.9" stroke="#000" stroke-width="1.55"/>
<path d="M391.7,633.0 L419.4,640.0 L411.7,653.3Z" fill="#000"/>
<path d="M840.3,889.9 L812.6,882.9 L820.3,869.6Z" fill="#000"/>
<line x1="840.6" y1="744.5" x2="840.6" y2="891.7" stroke="#000" stroke-width="1.55"/>
<line x1="391.7" y1="704.6" x2="605" y2="827.2" stroke="#000" stroke-width="1.55"/>
<line x1="677.5" y1="868.5" x2="891.4" y2="990.4" stroke="#000" stroke-width="1.55"/>
<path d="M391.7,704.6 L419.4,711.6 L411.7,724.9Z" fill="#000"/>
<path d="M891.4,990.4 L863.7,983.4 L871.4,970.1Z" fill="#000"/>
<line x1="891.5" y1="738.2" x2="891.5" y2="993" stroke="#000" stroke-width="1.55"/>
<path d="M468.94,142.32 C470.83,140.81 473.15,140.30 475.76,140.30 C480.11,140.30 482.57,143.34 482.57,147.89 C482.57,151.94 480.69,154.97 476.77,159.53 L468.80,165.60 L484.89,165.60 M498.45,139.90 C503.19,139.90 506.10,145.66 506.10,153.00 C506.10,160.34 503.19,166.10 498.45,166.10 C493.71,166.10 490.80,160.34 490.80,153.00 C490.80,145.66 493.71,139.90 498.45,139.90 Z M520.80,139.90 C525.64,139.90 528.60,145.66 528.60,153.00 C528.60,160.34 525.64,166.10 520.80,166.10 C515.96,166.10 513.00,160.34 513.00,153.00 C513.00,145.66 515.96,139.90 520.80,139.90 Z" fill="none" stroke="#000" stroke-width="3.4" stroke-linejoin="miter" stroke-miterlimit="2" stroke-linecap="butt"/>
<path d="M790.15,233.40 L806.80,233.40 L795.40,259.92 M828.14,233.40 L815.81,233.40 L815.00,243.98 C816.88,243.23 818.49,242.98 820.10,242.98 C824.65,242.98 827.60,246.76 827.60,250.54 C827.60,255.32 824.65,258.60 820.50,258.60 C817.95,258.60 815.81,257.59 814.20,256.08" fill="none" stroke="#000" stroke-width="3.4" stroke-linejoin="miter" stroke-miterlimit="2" stroke-linecap="butt"/>
<path d="M848.95,523.60 L836.34,523.60 L835.52,534.18 C837.44,533.43 839.08,533.18 840.73,533.18 C845.39,533.18 848.40,536.96 848.40,540.74 C848.40,545.52 845.39,548.80 841.14,548.80 C838.54,548.80 836.34,547.79 834.70,546.28 M856.11,523.60 L872.20,523.60 L861.18,550.44" fill="none" stroke="#000" stroke-width="3.4" stroke-linejoin="miter" stroke-miterlimit="2" stroke-linecap="butt"/>
<path d="M583.45,750.76 C585.39,749.21 587.77,748.70 590.45,748.70 C594.92,748.70 597.46,751.78 597.46,756.41 C597.46,760.52 595.52,763.61 591.50,768.23 L583.30,774.40 L599.84,774.40 M605.95,750.76 C607.83,749.21 610.15,748.70 612.76,748.70 C617.11,748.70 619.58,751.78 619.58,756.41 C619.58,760.52 617.69,763.61 613.78,768.23 L605.80,774.40 L621.90,774.40 M641.20,748.96 C633.68,750.00 627.60,757.28 627.60,765.86 C627.60,771.32 630.80,774.70 635.60,774.70 C640.40,774.70 643.60,771.06 643.60,765.86 C643.60,760.66 640.40,757.80 635.92,757.80 C632.40,757.80 629.20,760.14 627.92,763.26" fill="none" stroke="#000" stroke-width="3.4" stroke-linejoin="miter" stroke-miterlimit="2" stroke-linecap="butt"/>
<path d="M608.85,837.32 C610.74,835.81 613.08,835.30 615.71,835.30 C620.09,835.30 622.57,838.34 622.57,842.89 C622.57,846.94 620.67,849.97 616.73,854.53 L608.70,860.60 L624.91,860.60 M645.45,835.30 L632.76,835.30 L631.93,846.01 C633.86,845.25 635.52,844.99 637.17,844.99 C641.86,844.99 644.90,848.82 644.90,852.64 C644.90,857.49 641.86,860.80 637.59,860.80 C634.96,860.80 632.76,859.78 631.10,858.25 M653.55,837.32 C655.47,835.81 657.84,835.30 660.50,835.30 C664.94,835.30 667.46,838.34 667.46,842.89 C667.46,846.94 665.54,849.97 661.54,854.53 L653.40,860.60 L669.83,860.60" fill="none" stroke="#000" stroke-width="3.4" stroke-linejoin="miter" stroke-miterlimit="2" stroke-linecap="butt"/>
<path d="M206.19,536.60 L222.40,536.60 L211.30,563.65 M232.50,541.17 L238.70,536.60 L238.70,563.78" fill="none" stroke="#000" stroke-width="3.4" stroke-linejoin="miter" stroke-miterlimit="2" stroke-linecap="butt"/>
<path d="M151.72,355.73 C148.93,354.13 146.35,353.60 143.34,353.60 C136.03,353.60 131.30,359.45 131.30,366.90 C131.30,374.88 136.03,380.20 143.34,380.20 C146.99,380.20 150.22,379.40 152.80,378.34 L152.80,366.90 L144.20,366.90 M162.70,359.45 L169.40,355.00 L169.40,381.43 M180.70,381.60 L192.00,353.20 M197.85,357.02 C199.74,355.50 202.08,355.00 204.71,355.00 C209.09,355.00 211.57,358.02 211.57,362.56 C211.57,366.59 209.67,369.62 205.73,374.15 L197.70,380.20 L213.91,380.20" fill="none" stroke="#000" stroke-width="3.4" stroke-linejoin="miter" stroke-miterlimit="2" stroke-linecap="butt"/>
<path d="M395.90,252.10 C402.80,252.10 407.40,257.93 407.40,265.35 C407.40,272.77 402.80,278.60 395.90,278.60 C389.00,278.60 384.40,272.77 384.40,265.35 C384.40,257.93 389.00,252.10 395.90,252.10 Z M385.50,279.80 L405.80,251.50 M426.20,280.02 L426.20,253.70 L413.10,270.67 L431.75,270.67 M450.62,253.70 L438.75,253.70 L437.97,264.16 C439.78,263.41 441.33,263.16 442.88,263.16 C447.26,263.16 450.10,266.90 450.10,270.63 C450.10,275.36 447.26,278.60 443.26,278.60 C440.81,278.60 438.75,277.60 437.20,276.11" fill="none" stroke="#000" stroke-width="3.4" stroke-linejoin="miter" stroke-miterlimit="2" stroke-linecap="butt"/>
</svg></body></html>
